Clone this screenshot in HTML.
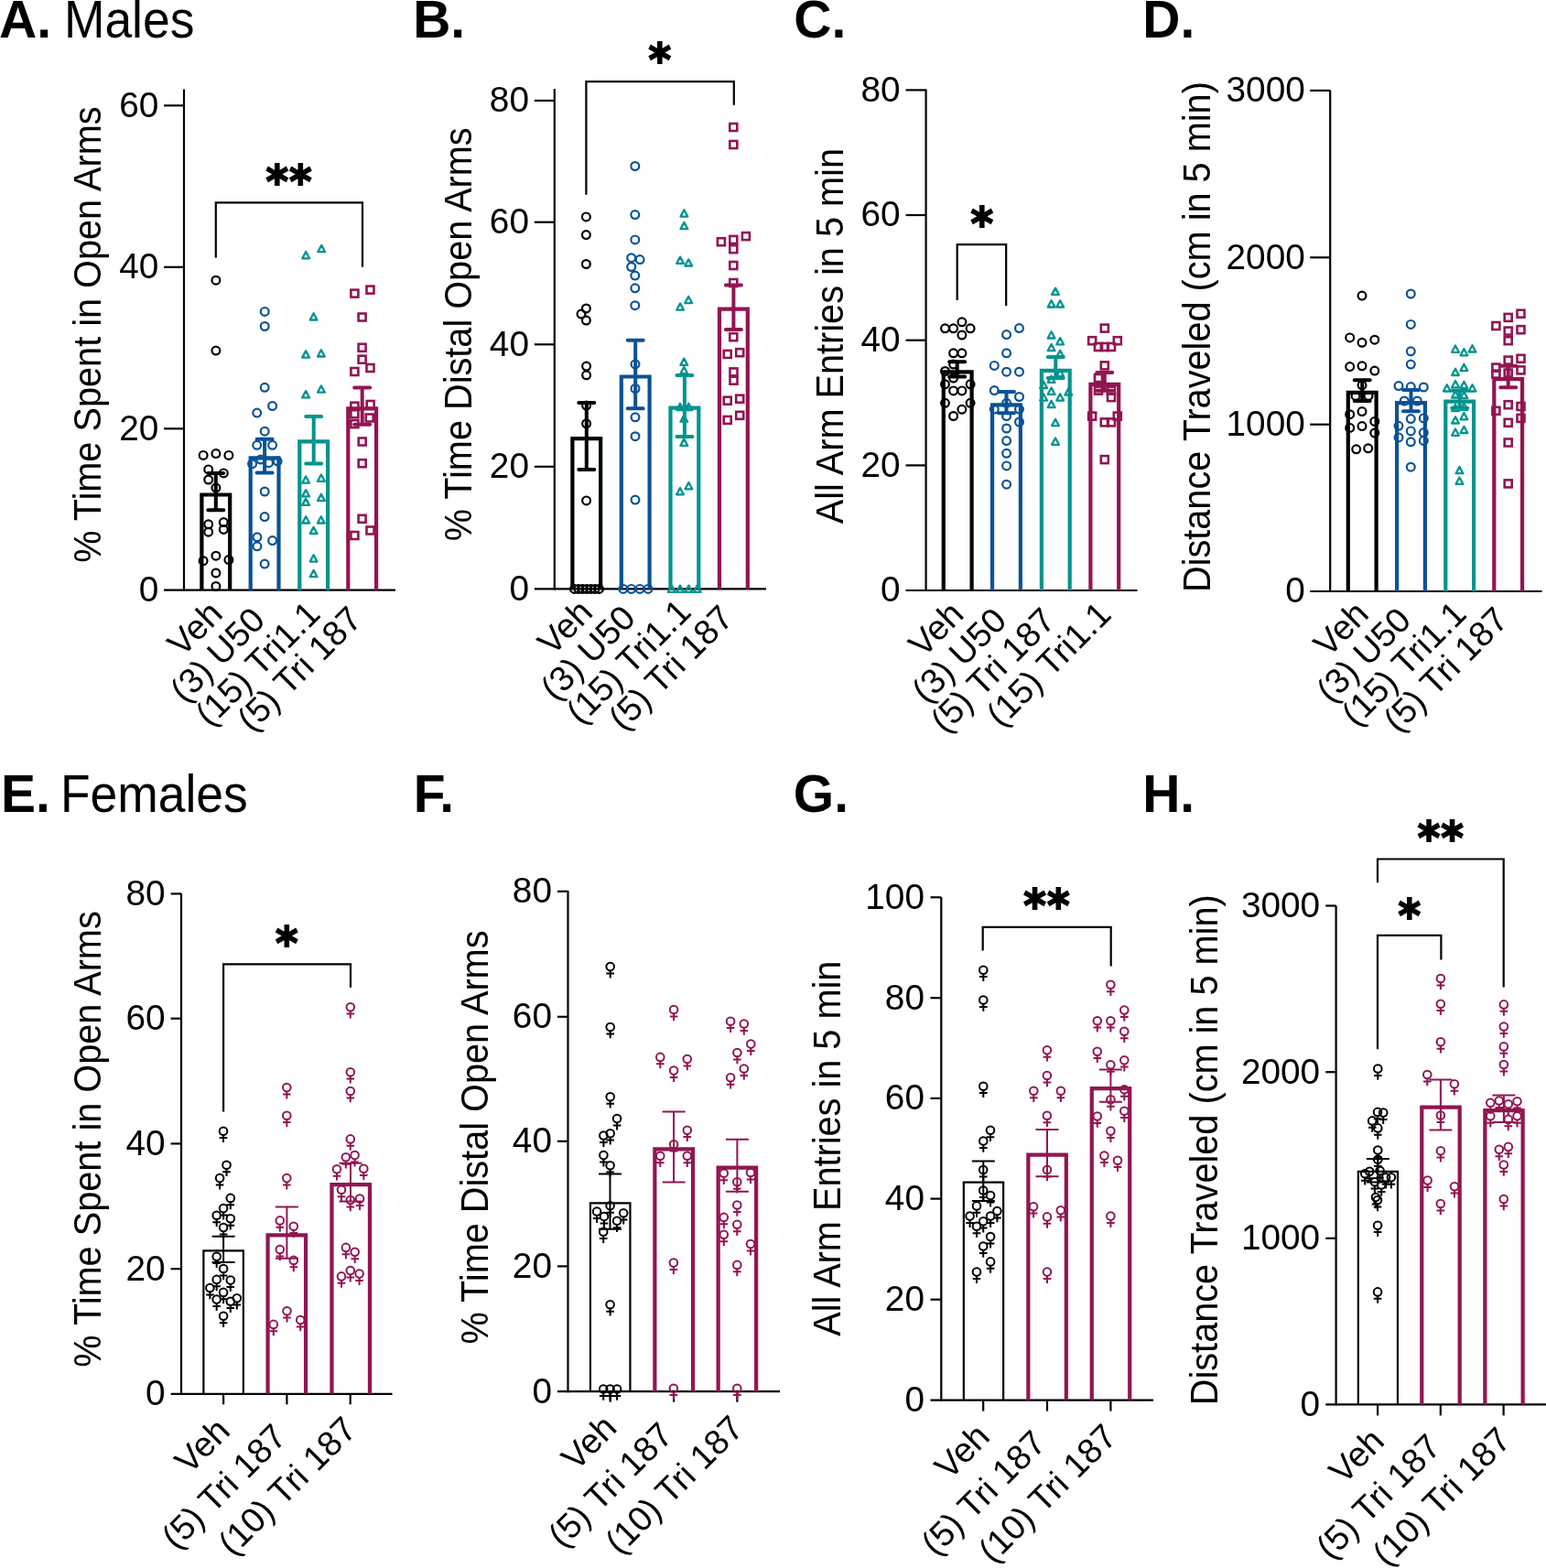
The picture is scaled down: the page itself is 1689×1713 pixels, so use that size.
<!DOCTYPE html><html><head><meta charset="utf-8"><title>Figure</title><style>html,body{margin:0;padding:0;background:#fff;}svg{display:block;}</style></head><body>
<svg xmlns="http://www.w3.org/2000/svg" width="1689" height="1713" viewBox="0 0 1689 1713" font-family="'Liberation Sans', Arial, Helvetica, sans-serif" fill="#000">
<rect width="1689" height="1713" fill="#fff"/>
<text x="-1" y="40.9" font-size="57" font-weight="700">A.</text>
<text transform="translate(69.9 40.9) scale(1 1.066)" font-size="53.4">Males</text>
<text x="451.2" y="41.2" font-size="57" font-weight="700">B.</text>
<text x="867.3" y="41.2" font-size="57" font-weight="700">C.</text>
<text x="1248.3" y="41.2" font-size="57" font-weight="700">D.</text>
<text x="1.1" y="887.3" font-size="57" font-weight="700">E.</text>
<text transform="translate(65.9 887.3) scale(1 1.066)" font-size="53.4">Females</text>
<text x="451.8" y="887.3" font-size="57" font-weight="700">F.</text>
<text x="866.8" y="887.3" font-size="57" font-weight="700">G.</text>
<text x="1248.2" y="887.3" font-size="57" font-weight="700">H.</text>
<g>
<line x1="201" y1="97.5" x2="201" y2="645.8" stroke="#000000" stroke-width="2.2" stroke-linecap="butt"/>
<line x1="179" y1="644.7" x2="432" y2="644.7" stroke="#000000" stroke-width="2.2" stroke-linecap="butt"/>
<text transform="translate(173.4 657.1) scale(1 1.02)" font-size="38.8" text-anchor="end" font-weight="normal">0</text>
<line x1="179" y1="468.3" x2="201" y2="468.3" stroke="#000000" stroke-width="2.2" stroke-linecap="butt"/>
<text transform="translate(173.4 480.7) scale(1 1.02)" font-size="38.8" text-anchor="end" font-weight="normal">20</text>
<line x1="179" y1="291.8" x2="201" y2="291.8" stroke="#000000" stroke-width="2.2" stroke-linecap="butt"/>
<text transform="translate(173.4 304.2) scale(1 1.02)" font-size="38.8" text-anchor="end" font-weight="normal">40</text>
<line x1="179" y1="115.3" x2="201" y2="115.3" stroke="#000000" stroke-width="2.2" stroke-linecap="butt"/>
<text transform="translate(173.4 127.7) scale(1 1.02)" font-size="38.8" text-anchor="end" font-weight="normal">60</text>
<text transform="translate(110 365.65) rotate(-90) scale(1 1.08)" font-size="39.7" text-anchor="middle" font-weight="normal">% Time Spent in Open Arms</text>
<path d="M220.4 644.7 V540.5 H251.2 V644.7" fill="none" stroke="#000000" stroke-width="4.2" stroke-linejoin="miter"/>
<path d="M273.7 644.7 V500.3 H304.5 V644.7" fill="none" stroke="#0a5297" stroke-width="4.2" stroke-linejoin="miter"/>
<path d="M327.3 644.7 V482.3 H358.1 V644.7" fill="none" stroke="#00948f" stroke-width="4.2" stroke-linejoin="miter"/>
<path d="M380.3 644.7 V446.3 H411.1 V644.7" fill="none" stroke="#921552" stroke-width="4.2" stroke-linejoin="miter"/>
<circle cx="235.9" cy="306.2" r="4.4" fill="none" stroke="#000000" stroke-width="2.2"/>
<circle cx="235.9" cy="383.1" r="4.4" fill="none" stroke="#000000" stroke-width="2.2"/>
<circle cx="222.1" cy="497.4" r="4.4" fill="none" stroke="#000000" stroke-width="2.2"/>
<circle cx="235.9" cy="495.6" r="4.4" fill="none" stroke="#000000" stroke-width="2.2"/>
<circle cx="249.9" cy="497.4" r="4.4" fill="none" stroke="#000000" stroke-width="2.2"/>
<circle cx="227.7" cy="512.9" r="4.4" fill="none" stroke="#000000" stroke-width="2.2"/>
<circle cx="244.3" cy="516.9" r="4.4" fill="none" stroke="#000000" stroke-width="2.2"/>
<circle cx="227.7" cy="524" r="4.4" fill="none" stroke="#000000" stroke-width="2.2"/>
<circle cx="235.9" cy="532.9" r="4.4" fill="none" stroke="#000000" stroke-width="2.2"/>
<circle cx="227.7" cy="572.8" r="4.4" fill="none" stroke="#000000" stroke-width="2.2"/>
<circle cx="244.3" cy="570.6" r="4.4" fill="none" stroke="#000000" stroke-width="2.2"/>
<circle cx="227.7" cy="581.2" r="4.4" fill="none" stroke="#000000" stroke-width="2.2"/>
<circle cx="244.3" cy="578.4" r="4.4" fill="none" stroke="#000000" stroke-width="2.2"/>
<circle cx="235.9" cy="607.2" r="4.4" fill="none" stroke="#000000" stroke-width="2.2"/>
<circle cx="222.1" cy="612.7" r="4.4" fill="none" stroke="#000000" stroke-width="2.2"/>
<circle cx="249.9" cy="611.6" r="4.4" fill="none" stroke="#000000" stroke-width="2.2"/>
<circle cx="235.9" cy="626" r="4.4" fill="none" stroke="#000000" stroke-width="2.2"/>
<circle cx="235.9" cy="640.5" r="4.4" fill="none" stroke="#000000" stroke-width="2.2"/>
<circle cx="289.2" cy="340.4" r="4.4" fill="none" stroke="#0a5297" stroke-width="2.2"/>
<circle cx="289.2" cy="356.5" r="4.4" fill="none" stroke="#0a5297" stroke-width="2.2"/>
<circle cx="289.2" cy="423.3" r="4.4" fill="none" stroke="#0a5297" stroke-width="2.2"/>
<circle cx="297.6" cy="443.5" r="4.4" fill="none" stroke="#0a5297" stroke-width="2.2"/>
<circle cx="280.7" cy="451.1" r="4.4" fill="none" stroke="#0a5297" stroke-width="2.2"/>
<circle cx="289.2" cy="471.2" r="4.4" fill="none" stroke="#0a5297" stroke-width="2.2"/>
<circle cx="280.7" cy="486.3" r="4.4" fill="none" stroke="#0a5297" stroke-width="2.2"/>
<circle cx="297.6" cy="486.3" r="4.4" fill="none" stroke="#0a5297" stroke-width="2.2"/>
<circle cx="275.6" cy="506.7" r="4.4" fill="none" stroke="#0a5297" stroke-width="2.2"/>
<circle cx="284.8" cy="502" r="4.4" fill="none" stroke="#0a5297" stroke-width="2.2"/>
<circle cx="293.6" cy="505.7" r="4.4" fill="none" stroke="#0a5297" stroke-width="2.2"/>
<circle cx="303.1" cy="503.8" r="4.4" fill="none" stroke="#0a5297" stroke-width="2.2"/>
<circle cx="289.2" cy="537" r="4.4" fill="none" stroke="#0a5297" stroke-width="2.2"/>
<circle cx="289.1" cy="564.6" r="4.4" fill="none" stroke="#0a5297" stroke-width="2.2"/>
<circle cx="280.9" cy="586.8" r="4.4" fill="none" stroke="#0a5297" stroke-width="2.2"/>
<circle cx="297.6" cy="590.6" r="4.4" fill="none" stroke="#0a5297" stroke-width="2.2"/>
<circle cx="280.9" cy="596.8" r="4.4" fill="none" stroke="#0a5297" stroke-width="2.2"/>
<circle cx="289.1" cy="616.1" r="4.4" fill="none" stroke="#0a5297" stroke-width="2.2"/>
<path d="M334.2 275 L338.1 282.3 L330.3 282.3 Z" fill="none" stroke="#00948f" stroke-width="2.3" stroke-linejoin="round"/>
<path d="M351.2 267.9 L355.1 275.2 L347.3 275.2 Z" fill="none" stroke="#00948f" stroke-width="2.3" stroke-linejoin="round"/>
<path d="M342.6 342.2 L346.5 349.5 L338.7 349.5 Z" fill="none" stroke="#00948f" stroke-width="2.3" stroke-linejoin="round"/>
<path d="M334.1 383.3 L338 390.6 L330.2 390.6 Z" fill="none" stroke="#00948f" stroke-width="2.3" stroke-linejoin="round"/>
<path d="M350.9 382.2 L354.8 389.5 L347 389.5 Z" fill="none" stroke="#00948f" stroke-width="2.3" stroke-linejoin="round"/>
<path d="M334.1 427.1 L338 434.4 L330.2 434.4 Z" fill="none" stroke="#00948f" stroke-width="2.3" stroke-linejoin="round"/>
<path d="M350.9 421.4 L354.8 428.7 L347 428.7 Z" fill="none" stroke="#00948f" stroke-width="2.3" stroke-linejoin="round"/>
<path d="M334.1 520.4 L338 527.7 L330.2 527.7 Z" fill="none" stroke="#00948f" stroke-width="2.3" stroke-linejoin="round"/>
<path d="M350.9 518.5 L354.8 525.8 L347 525.8 Z" fill="none" stroke="#00948f" stroke-width="2.3" stroke-linejoin="round"/>
<path d="M334.1 535.1 L338 542.4 L330.2 542.4 Z" fill="none" stroke="#00948f" stroke-width="2.3" stroke-linejoin="round"/>
<path d="M350.9 539.8 L354.8 547.1 L347 547.1 Z" fill="none" stroke="#00948f" stroke-width="2.3" stroke-linejoin="round"/>
<path d="M334.1 544.6 L338 551.9 L330.2 551.9 Z" fill="none" stroke="#00948f" stroke-width="2.3" stroke-linejoin="round"/>
<path d="M334.2 564.2 L338.1 571.5 L330.3 571.5 Z" fill="none" stroke="#00948f" stroke-width="2.3" stroke-linejoin="round"/>
<path d="M350.8 564.2 L354.7 571.5 L346.9 571.5 Z" fill="none" stroke="#00948f" stroke-width="2.3" stroke-linejoin="round"/>
<path d="M342.6 575.7 L346.5 583 L338.7 583 Z" fill="none" stroke="#00948f" stroke-width="2.3" stroke-linejoin="round"/>
<path d="M342.6 606.3 L346.5 613.6 L338.7 613.6 Z" fill="none" stroke="#00948f" stroke-width="2.3" stroke-linejoin="round"/>
<path d="M342.6 622.9 L346.5 630.2 L338.7 630.2 Z" fill="none" stroke="#00948f" stroke-width="2.3" stroke-linejoin="round"/>
<rect x="383.4" y="316.6" width="8.0" height="8.0" fill="none" stroke="#921552" stroke-width="2.6"/>
<rect x="400.5" y="312.6" width="8.0" height="8.0" fill="none" stroke="#921552" stroke-width="2.6"/>
<rect x="391.6" y="342.5" width="8.0" height="8.0" fill="none" stroke="#921552" stroke-width="2.6"/>
<rect x="391.6" y="375.8" width="8.0" height="8.0" fill="none" stroke="#921552" stroke-width="2.6"/>
<rect x="391.6" y="388.7" width="8.0" height="8.0" fill="none" stroke="#921552" stroke-width="2.6"/>
<rect x="383.4" y="402" width="8.0" height="8.0" fill="none" stroke="#921552" stroke-width="2.6"/>
<rect x="400.5" y="398" width="8.0" height="8.0" fill="none" stroke="#921552" stroke-width="2.6"/>
<rect x="383.4" y="439.7" width="8.0" height="8.0" fill="none" stroke="#921552" stroke-width="2.6"/>
<rect x="400.7" y="438" width="8.0" height="8.0" fill="none" stroke="#921552" stroke-width="2.6"/>
<rect x="383.4" y="448.2" width="8.0" height="8.0" fill="none" stroke="#921552" stroke-width="2.6"/>
<rect x="399.7" y="452.5" width="8.0" height="8.0" fill="none" stroke="#921552" stroke-width="2.6"/>
<rect x="383.4" y="459.1" width="8.0" height="8.0" fill="none" stroke="#921552" stroke-width="2.6"/>
<rect x="391.7" y="478.5" width="8.0" height="8.0" fill="none" stroke="#921552" stroke-width="2.6"/>
<rect x="391.7" y="502.2" width="8.0" height="8.0" fill="none" stroke="#921552" stroke-width="2.6"/>
<rect x="391.6" y="562.8" width="8.0" height="8.0" fill="none" stroke="#921552" stroke-width="2.6"/>
<rect x="383.4" y="581" width="8.0" height="8.0" fill="none" stroke="#921552" stroke-width="2.6"/>
<rect x="400.5" y="575.5" width="8.0" height="8.0" fill="none" stroke="#921552" stroke-width="2.6"/>
<path d="M235.8 516.9 V557.3 M227.3 516.9 H244.3 M227.3 557.3 H244.3" fill="none" stroke="#000000" stroke-width="4" stroke-linecap="round"/>
<path d="M289.1 479.7 V516.6 M280.6 479.7 H297.6 M280.6 516.6 H297.6" fill="none" stroke="#0a5297" stroke-width="4" stroke-linecap="round"/>
<path d="M342.7 454.9 V506.4 M334.2 454.9 H351.2 M334.2 506.4 H351.2" fill="none" stroke="#00948f" stroke-width="4" stroke-linecap="round"/>
<path d="M395.7 423.6 V463.8 M387.2 423.6 H404.2 M387.2 463.8 H404.2" fill="none" stroke="#921552" stroke-width="4" stroke-linecap="round"/>
<path d="M235.8 281.4 V221.4 H396 V291.8" fill="none" stroke="#000000" stroke-width="2.2"/>
<text transform="translate(316 215.7) scale(1 1.06)" font-family="'DejaVu Sans', sans-serif" font-weight="700" font-size="47" text-anchor="middle" letter-spacing="1" stroke="#000" stroke-width="1.7" stroke-linejoin="miter">**</text>
<text transform="translate(245.1 672.5) rotate(-45)" font-size="38" text-anchor="end" font-weight="normal" class="xl">Veh</text>
<text transform="translate(291.4 679.6) rotate(-45)" font-size="38" text-anchor="end" font-weight="normal" class="xl">(3) U50</text>
<text transform="translate(351.7 672.9) rotate(-45)" font-size="38" text-anchor="end" font-weight="normal" class="xl">(15) Tri1.1</text>
<text transform="translate(397.5 678.6) rotate(-45)" font-size="38" text-anchor="end" font-weight="normal" class="xl">(5) Tri 187</text>
</g>
<g>
<line x1="605.8" y1="97.1" x2="605.8" y2="644.5" stroke="#000000" stroke-width="2.2" stroke-linecap="butt"/>
<line x1="583.8" y1="643.4" x2="837" y2="643.4" stroke="#000000" stroke-width="2.2" stroke-linecap="butt"/>
<text transform="translate(578 655.8) scale(1 1.02)" font-size="38.8" text-anchor="end" font-weight="normal">0</text>
<line x1="583.8" y1="509.8" x2="605.8" y2="509.8" stroke="#000000" stroke-width="2.2" stroke-linecap="butt"/>
<text transform="translate(578 522.2) scale(1 1.02)" font-size="38.8" text-anchor="end" font-weight="normal">20</text>
<line x1="583.8" y1="376.3" x2="605.8" y2="376.3" stroke="#000000" stroke-width="2.2" stroke-linecap="butt"/>
<text transform="translate(578 388.7) scale(1 1.02)" font-size="38.8" text-anchor="end" font-weight="normal">40</text>
<line x1="583.8" y1="242.7" x2="605.8" y2="242.7" stroke="#000000" stroke-width="2.2" stroke-linecap="butt"/>
<text transform="translate(578 255.1) scale(1 1.02)" font-size="38.8" text-anchor="end" font-weight="normal">60</text>
<line x1="583.8" y1="109.9" x2="605.8" y2="109.9" stroke="#000000" stroke-width="2.2" stroke-linecap="butt"/>
<text transform="translate(578 122.3) scale(1 1.02)" font-size="38.8" text-anchor="end" font-weight="normal">80</text>
<text transform="translate(515 365.3) rotate(-90) scale(1 1.08)" font-size="39.7" text-anchor="middle" font-weight="normal">% Time Distal Open Arms</text>
<path d="M625.4 643.4 V479.1 H656.2 V643.4" fill="none" stroke="#000000" stroke-width="4.2" stroke-linejoin="miter"/>
<path d="M678.8 643.4 V411.5 H709.6 V643.4" fill="none" stroke="#0a5297" stroke-width="4.2" stroke-linejoin="miter"/>
<path d="M732.5 643.4 V445.7 H763.3 V643.4" fill="none" stroke="#00948f" stroke-width="4.2" stroke-linejoin="miter"/>
<path d="M786 643.4 V337.6 H816.8 V643.4" fill="none" stroke="#921552" stroke-width="4.2" stroke-linejoin="miter"/>
<circle cx="640.4" cy="236.9" r="4.4" fill="none" stroke="#000000" stroke-width="2.2"/>
<circle cx="640.4" cy="256.6" r="4.4" fill="none" stroke="#000000" stroke-width="2.2"/>
<circle cx="640.4" cy="288.5" r="4.4" fill="none" stroke="#000000" stroke-width="2.2"/>
<circle cx="640.4" cy="337" r="4.4" fill="none" stroke="#000000" stroke-width="2.2"/>
<circle cx="635" cy="343.1" r="4.4" fill="none" stroke="#000000" stroke-width="2.2"/>
<circle cx="640.4" cy="350" r="4.4" fill="none" stroke="#000000" stroke-width="2.2"/>
<circle cx="640.6" cy="400.1" r="4.4" fill="none" stroke="#000000" stroke-width="2.2"/>
<circle cx="640.6" cy="409.8" r="4.4" fill="none" stroke="#000000" stroke-width="2.2"/>
<circle cx="640.6" cy="443.1" r="4.4" fill="none" stroke="#000000" stroke-width="2.2"/>
<circle cx="640.6" cy="462.8" r="4.4" fill="none" stroke="#000000" stroke-width="2.2"/>
<circle cx="640.6" cy="546.9" r="4.4" fill="none" stroke="#000000" stroke-width="2.2"/>
<circle cx="627.5" cy="643.4" r="4.4" fill="none" stroke="#000000" stroke-width="2.2"/>
<circle cx="632" cy="643.4" r="4.4" fill="none" stroke="#000000" stroke-width="2.2"/>
<circle cx="636.5" cy="643.4" r="4.4" fill="none" stroke="#000000" stroke-width="2.2"/>
<circle cx="641" cy="643.4" r="4.4" fill="none" stroke="#000000" stroke-width="2.2"/>
<circle cx="645.5" cy="643.4" r="4.4" fill="none" stroke="#000000" stroke-width="2.2"/>
<circle cx="650" cy="643.4" r="4.4" fill="none" stroke="#000000" stroke-width="2.2"/>
<circle cx="654.5" cy="643.4" r="4.4" fill="none" stroke="#000000" stroke-width="2.2"/>
<circle cx="693.8" cy="181.5" r="4.4" fill="none" stroke="#0a5297" stroke-width="2.2"/>
<circle cx="693.8" cy="234.6" r="4.4" fill="none" stroke="#0a5297" stroke-width="2.2"/>
<circle cx="693.8" cy="261.9" r="4.4" fill="none" stroke="#0a5297" stroke-width="2.2"/>
<circle cx="689.7" cy="281.7" r="4.4" fill="none" stroke="#0a5297" stroke-width="2.2"/>
<circle cx="699.1" cy="283.6" r="4.4" fill="none" stroke="#0a5297" stroke-width="2.2"/>
<circle cx="689.7" cy="291.5" r="4.4" fill="none" stroke="#0a5297" stroke-width="2.2"/>
<circle cx="693.8" cy="301.1" r="4.4" fill="none" stroke="#0a5297" stroke-width="2.2"/>
<circle cx="693.8" cy="314.8" r="4.4" fill="none" stroke="#0a5297" stroke-width="2.2"/>
<circle cx="693.8" cy="333.7" r="4.4" fill="none" stroke="#0a5297" stroke-width="2.2"/>
<circle cx="694" cy="397.9" r="4.4" fill="none" stroke="#0a5297" stroke-width="2.2"/>
<circle cx="694" cy="424.5" r="4.4" fill="none" stroke="#0a5297" stroke-width="2.2"/>
<circle cx="694" cy="455.8" r="4.4" fill="none" stroke="#0a5297" stroke-width="2.2"/>
<circle cx="694" cy="476.7" r="4.4" fill="none" stroke="#0a5297" stroke-width="2.2"/>
<circle cx="694" cy="546.1" r="4.4" fill="none" stroke="#0a5297" stroke-width="2.2"/>
<circle cx="680.9" cy="643.4" r="4.4" fill="none" stroke="#0a5297" stroke-width="2.2"/>
<circle cx="689.7" cy="643.4" r="4.4" fill="none" stroke="#0a5297" stroke-width="2.2"/>
<circle cx="699" cy="643.4" r="4.4" fill="none" stroke="#0a5297" stroke-width="2.2"/>
<circle cx="708" cy="643.4" r="4.4" fill="none" stroke="#0a5297" stroke-width="2.2"/>
<path d="M747.4 229.3 L751.3 236.6 L743.5 236.6 Z" fill="none" stroke="#00948f" stroke-width="2.3" stroke-linejoin="round"/>
<path d="M747.4 242.9 L751.3 250.2 L743.5 250.2 Z" fill="none" stroke="#00948f" stroke-width="2.3" stroke-linejoin="round"/>
<path d="M743.1 280.6 L747 287.9 L739.2 287.9 Z" fill="none" stroke="#00948f" stroke-width="2.3" stroke-linejoin="round"/>
<path d="M752.2 283.2 L756.1 290.5 L748.3 290.5 Z" fill="none" stroke="#00948f" stroke-width="2.3" stroke-linejoin="round"/>
<path d="M752.2 323.8 L756.1 331.1 L748.3 331.1 Z" fill="none" stroke="#00948f" stroke-width="2.3" stroke-linejoin="round"/>
<path d="M743.1 331.4 L747 338.7 L739.2 338.7 Z" fill="none" stroke="#00948f" stroke-width="2.3" stroke-linejoin="round"/>
<path d="M747.3 391.6 L751.2 398.9 L743.4 398.9 Z" fill="none" stroke="#00948f" stroke-width="2.3" stroke-linejoin="round"/>
<path d="M747.3 400.9 L751.2 408.2 L743.4 408.2 Z" fill="none" stroke="#00948f" stroke-width="2.3" stroke-linejoin="round"/>
<path d="M743 440.7 L746.9 448 L739.1 448 Z" fill="none" stroke="#00948f" stroke-width="2.3" stroke-linejoin="round"/>
<path d="M752.4 440.7 L756.3 448 L748.5 448 Z" fill="none" stroke="#00948f" stroke-width="2.3" stroke-linejoin="round"/>
<path d="M747.3 453.4 L751.2 460.7 L743.4 460.7 Z" fill="none" stroke="#00948f" stroke-width="2.3" stroke-linejoin="round"/>
<path d="M747.3 479.6 L751.2 486.9 L743.4 486.9 Z" fill="none" stroke="#00948f" stroke-width="2.3" stroke-linejoin="round"/>
<path d="M752.4 527 L756.3 534.3 L748.5 534.3 Z" fill="none" stroke="#00948f" stroke-width="2.3" stroke-linejoin="round"/>
<path d="M743 533 L746.9 540.3 L739.1 540.3 Z" fill="none" stroke="#00948f" stroke-width="2.3" stroke-linejoin="round"/>
<path d="M733.7 639.6 L737.6 646.9 L729.8 646.9 Z" fill="none" stroke="#00948f" stroke-width="2.3" stroke-linejoin="round"/>
<path d="M743 639.6 L746.9 646.9 L739.1 646.9 Z" fill="none" stroke="#00948f" stroke-width="2.3" stroke-linejoin="round"/>
<path d="M752.4 639.6 L756.3 646.9 L748.5 646.9 Z" fill="none" stroke="#00948f" stroke-width="2.3" stroke-linejoin="round"/>
<path d="M761.7 639.6 L765.6 646.9 L757.8 646.9 Z" fill="none" stroke="#00948f" stroke-width="2.3" stroke-linejoin="round"/>
<rect x="797.3" y="135" width="8.0" height="8.0" fill="none" stroke="#921552" stroke-width="2.6"/>
<rect x="797.3" y="154" width="8.0" height="8.0" fill="none" stroke="#921552" stroke-width="2.6"/>
<rect x="810.9" y="254.1" width="8.0" height="8.0" fill="none" stroke="#921552" stroke-width="2.6"/>
<rect x="783.9" y="260.2" width="8.0" height="8.0" fill="none" stroke="#921552" stroke-width="2.6"/>
<rect x="797.3" y="257.9" width="8.0" height="8.0" fill="none" stroke="#921552" stroke-width="2.6"/>
<rect x="797.3" y="268.2" width="8.0" height="8.0" fill="none" stroke="#921552" stroke-width="2.6"/>
<rect x="797.3" y="286" width="8.0" height="8.0" fill="none" stroke="#921552" stroke-width="2.6"/>
<rect x="797.3" y="305" width="8.0" height="8.0" fill="none" stroke="#921552" stroke-width="2.6"/>
<rect x="797.3" y="364.2" width="8.0" height="8.0" fill="none" stroke="#921552" stroke-width="2.6"/>
<rect x="790.7" y="382.9" width="8.0" height="8.0" fill="none" stroke="#921552" stroke-width="2.6"/>
<rect x="804.2" y="381.2" width="8.0" height="8.0" fill="none" stroke="#921552" stroke-width="2.6"/>
<rect x="797.5" y="402.4" width="8.0" height="8.0" fill="none" stroke="#921552" stroke-width="2.6"/>
<rect x="797.5" y="411.7" width="8.0" height="8.0" fill="none" stroke="#921552" stroke-width="2.6"/>
<rect x="790.7" y="433.7" width="8.0" height="8.0" fill="none" stroke="#921552" stroke-width="2.6"/>
<rect x="804.2" y="431.7" width="8.0" height="8.0" fill="none" stroke="#921552" stroke-width="2.6"/>
<rect x="790.7" y="454.9" width="8.0" height="8.0" fill="none" stroke="#921552" stroke-width="2.6"/>
<rect x="804.2" y="449.8" width="8.0" height="8.0" fill="none" stroke="#921552" stroke-width="2.6"/>
<path d="M640.8 439.9 V513 M632.3 439.9 H649.3 M632.3 513 H649.3" fill="none" stroke="#000000" stroke-width="4" stroke-linecap="round"/>
<path d="M694.2 371.7 V446.2 M685.7 371.7 H702.7 M685.7 446.2 H702.7" fill="none" stroke="#0a5297" stroke-width="4" stroke-linecap="round"/>
<path d="M747.9 410.1 V477 M739.4 410.1 H756.4 M739.4 477 H756.4" fill="none" stroke="#00948f" stroke-width="4" stroke-linecap="round"/>
<path d="M801.4 311.6 V360.1 M792.9 311.6 H809.9 M792.9 360.1 H809.9" fill="none" stroke="#921552" stroke-width="4" stroke-linecap="round"/>
<path d="M640.4 212.7 V89.1 H801.8 V114.8" fill="none" stroke="#000000" stroke-width="2.2"/>
<text transform="translate(721.3 83.2) scale(1 1.06)" font-family="'DejaVu Sans', sans-serif" font-weight="700" font-size="47" text-anchor="middle" letter-spacing="1" stroke="#000" stroke-width="1.7" stroke-linejoin="miter">*</text>
<text transform="translate(649.5 671.05) rotate(-45)" font-size="38" text-anchor="end" font-weight="normal" class="xl">Veh</text>
<text transform="translate(696.2 677.4) rotate(-45)" font-size="38" text-anchor="end" font-weight="normal" class="xl">(3) U50</text>
<text transform="translate(757 670.6) rotate(-45)" font-size="38" text-anchor="end" font-weight="normal" class="xl">(15) Tri1.1</text>
<text transform="translate(803.2 677.3) rotate(-45)" font-size="38" text-anchor="end" font-weight="normal" class="xl">(5) Tri 187</text>
</g>
<g>
<line x1="1011.6" y1="97.6" x2="1011.6" y2="646.1" stroke="#000000" stroke-width="2.2" stroke-linecap="butt"/>
<line x1="989.6" y1="645" x2="1242.5" y2="645" stroke="#000000" stroke-width="2.2" stroke-linecap="butt"/>
<text transform="translate(983.7 657.4) scale(1 1.02)" font-size="38.8" text-anchor="end" font-weight="normal">0</text>
<line x1="989.6" y1="508.4" x2="1011.6" y2="508.4" stroke="#000000" stroke-width="2.2" stroke-linecap="butt"/>
<text transform="translate(983.7 520.8) scale(1 1.02)" font-size="38.8" text-anchor="end" font-weight="normal">20</text>
<line x1="989.6" y1="371.7" x2="1011.6" y2="371.7" stroke="#000000" stroke-width="2.2" stroke-linecap="butt"/>
<text transform="translate(983.7 384.1) scale(1 1.02)" font-size="38.8" text-anchor="end" font-weight="normal">40</text>
<line x1="989.6" y1="235" x2="1011.6" y2="235" stroke="#000000" stroke-width="2.2" stroke-linecap="butt"/>
<text transform="translate(983.7 247.4) scale(1 1.02)" font-size="38.8" text-anchor="end" font-weight="normal">60</text>
<line x1="989.6" y1="98.4" x2="1011.6" y2="98.4" stroke="#000000" stroke-width="2.2" stroke-linecap="butt"/>
<text transform="translate(983.7 110.8) scale(1 1.02)" font-size="38.8" text-anchor="end" font-weight="normal">80</text>
<text transform="translate(920.9 367.1) rotate(-90) scale(1 1.08)" font-size="39.7" text-anchor="middle" font-weight="normal">All Arm Entries in 5 min</text>
<path d="M1030.8 645 V406.3 H1061.6 V645" fill="none" stroke="#000000" stroke-width="4.2" stroke-linejoin="miter"/>
<path d="M1084.1 645 V442.4 H1114.9 V645" fill="none" stroke="#0a5297" stroke-width="4.2" stroke-linejoin="miter"/>
<path d="M1137.9 645 V404.9 H1168.7 V645" fill="none" stroke="#00948f" stroke-width="4.2" stroke-linejoin="miter"/>
<path d="M1191.4 645 V419.9 H1222.2 V645" fill="none" stroke="#921552" stroke-width="4.2" stroke-linejoin="miter"/>
<circle cx="1050.9" cy="351.8" r="4.4" fill="none" stroke="#000000" stroke-width="2.2"/>
<circle cx="1032.5" cy="358.8" r="4.4" fill="none" stroke="#000000" stroke-width="2.2"/>
<circle cx="1041.6" cy="358.8" r="4.4" fill="none" stroke="#000000" stroke-width="2.2"/>
<circle cx="1060.1" cy="358.8" r="4.4" fill="none" stroke="#000000" stroke-width="2.2"/>
<circle cx="1050.9" cy="366" r="4.4" fill="none" stroke="#000000" stroke-width="2.2"/>
<circle cx="1041.6" cy="385.8" r="4.4" fill="none" stroke="#000000" stroke-width="2.2"/>
<circle cx="1050.9" cy="385.8" r="4.4" fill="none" stroke="#000000" stroke-width="2.2"/>
<circle cx="1032.5" cy="405.5" r="4.4" fill="none" stroke="#000000" stroke-width="2.2"/>
<circle cx="1041.6" cy="398" r="4.4" fill="none" stroke="#000000" stroke-width="2.2"/>
<circle cx="1041.6" cy="413" r="4.4" fill="none" stroke="#000000" stroke-width="2.2"/>
<circle cx="1032.5" cy="419.8" r="4.4" fill="none" stroke="#000000" stroke-width="2.2"/>
<circle cx="1060.1" cy="419.8" r="4.4" fill="none" stroke="#000000" stroke-width="2.2"/>
<circle cx="1041.6" cy="426.9" r="4.4" fill="none" stroke="#000000" stroke-width="2.2"/>
<circle cx="1050.9" cy="426.9" r="4.4" fill="none" stroke="#000000" stroke-width="2.2"/>
<circle cx="1032.5" cy="440.3" r="4.4" fill="none" stroke="#000000" stroke-width="2.2"/>
<circle cx="1060.1" cy="440.3" r="4.4" fill="none" stroke="#000000" stroke-width="2.2"/>
<circle cx="1050.9" cy="447.3" r="4.4" fill="none" stroke="#000000" stroke-width="2.2"/>
<circle cx="1041.6" cy="454.5" r="4.4" fill="none" stroke="#000000" stroke-width="2.2"/>
<circle cx="1113.5" cy="358.6" r="4.4" fill="none" stroke="#0a5297" stroke-width="2.2"/>
<circle cx="1099.6" cy="365.6" r="4.4" fill="none" stroke="#0a5297" stroke-width="2.2"/>
<circle cx="1099.6" cy="385.8" r="4.4" fill="none" stroke="#0a5297" stroke-width="2.2"/>
<circle cx="1086.3" cy="399.4" r="4.4" fill="none" stroke="#0a5297" stroke-width="2.2"/>
<circle cx="1099.6" cy="406.2" r="4.4" fill="none" stroke="#0a5297" stroke-width="2.2"/>
<circle cx="1113.5" cy="406.2" r="4.4" fill="none" stroke="#0a5297" stroke-width="2.2"/>
<circle cx="1086.3" cy="426.6" r="4.4" fill="none" stroke="#0a5297" stroke-width="2.2"/>
<circle cx="1113.5" cy="433.5" r="4.4" fill="none" stroke="#0a5297" stroke-width="2.2"/>
<circle cx="1099.6" cy="440.3" r="4.4" fill="none" stroke="#0a5297" stroke-width="2.2"/>
<circle cx="1086.3" cy="447.1" r="4.4" fill="none" stroke="#0a5297" stroke-width="2.2"/>
<circle cx="1113.5" cy="447.1" r="4.4" fill="none" stroke="#0a5297" stroke-width="2.2"/>
<circle cx="1099.6" cy="454.6" r="4.4" fill="none" stroke="#0a5297" stroke-width="2.2"/>
<circle cx="1113.5" cy="461" r="4.4" fill="none" stroke="#0a5297" stroke-width="2.2"/>
<circle cx="1099.6" cy="468" r="4.4" fill="none" stroke="#0a5297" stroke-width="2.2"/>
<circle cx="1099.6" cy="481.6" r="4.4" fill="none" stroke="#0a5297" stroke-width="2.2"/>
<circle cx="1099.6" cy="495.3" r="4.4" fill="none" stroke="#0a5297" stroke-width="2.2"/>
<circle cx="1099.6" cy="508.9" r="4.4" fill="none" stroke="#0a5297" stroke-width="2.2"/>
<circle cx="1099.6" cy="529.2" r="4.4" fill="none" stroke="#0a5297" stroke-width="2.2"/>
<path d="M1153 314.6 L1156.9 321.9 L1149.1 321.9 Z" fill="none" stroke="#00948f" stroke-width="2.3" stroke-linejoin="round"/>
<path d="M1148.6 328.2 L1152.5 335.5 L1144.7 335.5 Z" fill="none" stroke="#00948f" stroke-width="2.3" stroke-linejoin="round"/>
<path d="M1158.2 328.2 L1162.1 335.5 L1154.3 335.5 Z" fill="none" stroke="#00948f" stroke-width="2.3" stroke-linejoin="round"/>
<path d="M1148.6 362.2 L1152.5 369.5 L1144.7 369.5 Z" fill="none" stroke="#00948f" stroke-width="2.3" stroke-linejoin="round"/>
<path d="M1158.2 369.1 L1162.1 376.4 L1154.3 376.4 Z" fill="none" stroke="#00948f" stroke-width="2.3" stroke-linejoin="round"/>
<path d="M1148.6 375.9 L1152.5 383.2 L1144.7 383.2 Z" fill="none" stroke="#00948f" stroke-width="2.3" stroke-linejoin="round"/>
<path d="M1158.2 382.7 L1162.1 390 L1154.3 390 Z" fill="none" stroke="#00948f" stroke-width="2.3" stroke-linejoin="round"/>
<path d="M1158.2 403.8 L1162.1 411.1 L1154.3 411.1 Z" fill="none" stroke="#00948f" stroke-width="2.3" stroke-linejoin="round"/>
<path d="M1148.6 410.6 L1152.5 417.9 L1144.7 417.9 Z" fill="none" stroke="#00948f" stroke-width="2.3" stroke-linejoin="round"/>
<path d="M1140.1 416.7 L1144 424 L1136.2 424 Z" fill="none" stroke="#00948f" stroke-width="2.3" stroke-linejoin="round"/>
<path d="M1148.6 423.5 L1152.5 430.8 L1144.7 430.8 Z" fill="none" stroke="#00948f" stroke-width="2.3" stroke-linejoin="round"/>
<path d="M1167.3 424.2 L1171.2 431.5 L1163.4 431.5 Z" fill="none" stroke="#00948f" stroke-width="2.3" stroke-linejoin="round"/>
<path d="M1140.1 430.3 L1144 437.6 L1136.2 437.6 Z" fill="none" stroke="#00948f" stroke-width="2.3" stroke-linejoin="round"/>
<path d="M1158.2 430.3 L1162.1 437.6 L1154.3 437.6 Z" fill="none" stroke="#00948f" stroke-width="2.3" stroke-linejoin="round"/>
<path d="M1148.6 437.8 L1152.5 445.1 L1144.7 445.1 Z" fill="none" stroke="#00948f" stroke-width="2.3" stroke-linejoin="round"/>
<path d="M1153 457.8 L1156.9 465.1 L1149.1 465.1 Z" fill="none" stroke="#00948f" stroke-width="2.3" stroke-linejoin="round"/>
<path d="M1153 478.5 L1156.9 485.8 L1149.1 485.8 Z" fill="none" stroke="#00948f" stroke-width="2.3" stroke-linejoin="round"/>
<rect x="1202.8" y="354.6" width="8.0" height="8.0" fill="none" stroke="#921552" stroke-width="2.6"/>
<rect x="1189.2" y="368.2" width="8.0" height="8.0" fill="none" stroke="#921552" stroke-width="2.6"/>
<rect x="1216.8" y="368.2" width="8.0" height="8.0" fill="none" stroke="#921552" stroke-width="2.6"/>
<rect x="1196" y="375" width="8.0" height="8.0" fill="none" stroke="#921552" stroke-width="2.6"/>
<rect x="1202.8" y="375" width="8.0" height="8.0" fill="none" stroke="#921552" stroke-width="2.6"/>
<rect x="1210" y="375" width="8.0" height="8.0" fill="none" stroke="#921552" stroke-width="2.6"/>
<rect x="1202.8" y="395.4" width="8.0" height="8.0" fill="none" stroke="#921552" stroke-width="2.6"/>
<rect x="1196" y="409" width="8.0" height="8.0" fill="none" stroke="#921552" stroke-width="2.6"/>
<rect x="1196" y="422.6" width="8.0" height="8.0" fill="none" stroke="#921552" stroke-width="2.6"/>
<rect x="1210" y="422.6" width="8.0" height="8.0" fill="none" stroke="#921552" stroke-width="2.6"/>
<rect x="1210" y="430.1" width="8.0" height="8.0" fill="none" stroke="#921552" stroke-width="2.6"/>
<rect x="1189.2" y="450.6" width="8.0" height="8.0" fill="none" stroke="#921552" stroke-width="2.6"/>
<rect x="1216.8" y="450.6" width="8.0" height="8.0" fill="none" stroke="#921552" stroke-width="2.6"/>
<rect x="1202.8" y="457.4" width="8.0" height="8.0" fill="none" stroke="#921552" stroke-width="2.6"/>
<rect x="1210" y="457.4" width="8.0" height="8.0" fill="none" stroke="#921552" stroke-width="2.6"/>
<rect x="1202.8" y="498.1" width="8.0" height="8.0" fill="none" stroke="#921552" stroke-width="2.6"/>
<path d="M1045.7 395.3 V411.4 M1037.2 395.3 H1054.2 M1037.2 411.4 H1054.2" fill="none" stroke="#000000" stroke-width="4" stroke-linecap="round"/>
<path d="M1099.5 428 V451.2 M1091 428 H1108 M1091 451.2 H1108" fill="none" stroke="#0a5297" stroke-width="4" stroke-linecap="round"/>
<path d="M1153.3 389.9 V413 M1144.8 389.9 H1161.8 M1144.8 413 H1161.8" fill="none" stroke="#00948f" stroke-width="4" stroke-linecap="round"/>
<path d="M1206.8 406.9 V426.7 M1198.3 406.9 H1215.3 M1198.3 426.7 H1215.3" fill="none" stroke="#921552" stroke-width="4" stroke-linecap="round"/>
<path d="M1045.7 327.9 V267.1 H1099.2 V334" fill="none" stroke="#000000" stroke-width="2.2"/>
<text transform="translate(1073.2 261.7) scale(1 1.06)" font-family="'DejaVu Sans', sans-serif" font-weight="700" font-size="47" text-anchor="middle" letter-spacing="1" stroke="#000" stroke-width="1.7" stroke-linejoin="miter">*</text>
<text transform="translate(1054.75 673.05) rotate(-45)" font-size="38" text-anchor="end" font-weight="normal" class="xl">Veh</text>
<text transform="translate(1101.7 680.15) rotate(-45)" font-size="38" text-anchor="end" font-weight="normal" class="xl">(3) U50</text>
<text transform="translate(1154.85 680.05) rotate(-45)" font-size="38" text-anchor="end" font-weight="normal" class="xl">(5) Tri 187</text>
<text transform="translate(1215.9 673.4) rotate(-45)" font-size="38" text-anchor="end" font-weight="normal" class="xl">(15) Tri1.1</text>
</g>
<g>
<line x1="1453.2" y1="98.4" x2="1453.2" y2="647.1" stroke="#000000" stroke-width="2.2" stroke-linecap="butt"/>
<line x1="1431.2" y1="646" x2="1684.5" y2="646" stroke="#000000" stroke-width="2.2" stroke-linecap="butt"/>
<text transform="translate(1425.8 658.4) scale(1 1.02)" font-size="38.8" text-anchor="end" font-weight="normal">0</text>
<line x1="1431.2" y1="463.7" x2="1453.2" y2="463.7" stroke="#000000" stroke-width="2.2" stroke-linecap="butt"/>
<text transform="translate(1425.8 476.1) scale(1 1.02)" font-size="38.8" text-anchor="end" font-weight="normal">1000</text>
<line x1="1431.2" y1="281.3" x2="1453.2" y2="281.3" stroke="#000000" stroke-width="2.2" stroke-linecap="butt"/>
<text transform="translate(1425.8 293.7) scale(1 1.02)" font-size="38.8" text-anchor="end" font-weight="normal">2000</text>
<line x1="1431.2" y1="98.9" x2="1453.2" y2="98.9" stroke="#000000" stroke-width="2.2" stroke-linecap="butt"/>
<text transform="translate(1425.8 111.3) scale(1 1.02)" font-size="38.8" text-anchor="end" font-weight="normal">3000</text>
<text transform="translate(1321.9 368.1) rotate(-90) scale(1 1.08)" font-size="39.7" text-anchor="middle" font-weight="normal">Distance Traveled (cm in 5 min)</text>
<path d="M1472.8 646 V428.9 H1503.6 V646" fill="none" stroke="#000000" stroke-width="4.2" stroke-linejoin="miter"/>
<path d="M1526.1 646 V440.1 H1556.9 V646" fill="none" stroke="#0a5297" stroke-width="4.2" stroke-linejoin="miter"/>
<path d="M1579.3 646 V438.7 H1610.1 V646" fill="none" stroke="#00948f" stroke-width="4.2" stroke-linejoin="miter"/>
<path d="M1632.3 646 V414.2 H1663.1 V646" fill="none" stroke="#921552" stroke-width="4.2" stroke-linejoin="miter"/>
<circle cx="1488" cy="323.1" r="4.4" fill="none" stroke="#000000" stroke-width="2.2"/>
<circle cx="1474.7" cy="368.9" r="4.4" fill="none" stroke="#000000" stroke-width="2.2"/>
<circle cx="1488" cy="374.3" r="4.4" fill="none" stroke="#000000" stroke-width="2.2"/>
<circle cx="1501.8" cy="371.2" r="4.4" fill="none" stroke="#000000" stroke-width="2.2"/>
<circle cx="1474.7" cy="400.6" r="4.4" fill="none" stroke="#000000" stroke-width="2.2"/>
<circle cx="1488" cy="399.8" r="4.4" fill="none" stroke="#000000" stroke-width="2.2"/>
<circle cx="1501.8" cy="405.1" r="4.4" fill="none" stroke="#000000" stroke-width="2.2"/>
<circle cx="1488" cy="420.8" r="4.4" fill="none" stroke="#000000" stroke-width="2.2"/>
<circle cx="1481" cy="432.4" r="4.4" fill="none" stroke="#000000" stroke-width="2.2"/>
<circle cx="1495" cy="432.4" r="4.4" fill="none" stroke="#000000" stroke-width="2.2"/>
<circle cx="1488" cy="449.6" r="4.4" fill="none" stroke="#000000" stroke-width="2.2"/>
<circle cx="1474.7" cy="452.7" r="4.4" fill="none" stroke="#000000" stroke-width="2.2"/>
<circle cx="1501.8" cy="460.4" r="4.4" fill="none" stroke="#000000" stroke-width="2.2"/>
<circle cx="1474.7" cy="467.4" r="4.4" fill="none" stroke="#000000" stroke-width="2.2"/>
<circle cx="1488" cy="465.6" r="4.4" fill="none" stroke="#000000" stroke-width="2.2"/>
<circle cx="1501.8" cy="473" r="4.4" fill="none" stroke="#000000" stroke-width="2.2"/>
<circle cx="1481.7" cy="490.8" r="4.4" fill="none" stroke="#000000" stroke-width="2.2"/>
<circle cx="1494.7" cy="489.8" r="4.4" fill="none" stroke="#000000" stroke-width="2.2"/>
<circle cx="1541.3" cy="321" r="4.4" fill="none" stroke="#0a5297" stroke-width="2.2"/>
<circle cx="1541.3" cy="354.4" r="4.4" fill="none" stroke="#0a5297" stroke-width="2.2"/>
<circle cx="1541.3" cy="383.8" r="4.4" fill="none" stroke="#0a5297" stroke-width="2.2"/>
<circle cx="1541.3" cy="398.1" r="4.4" fill="none" stroke="#0a5297" stroke-width="2.2"/>
<circle cx="1528" cy="421.6" r="4.4" fill="none" stroke="#0a5297" stroke-width="2.2"/>
<circle cx="1541.3" cy="422.6" r="4.4" fill="none" stroke="#0a5297" stroke-width="2.2"/>
<circle cx="1555.3" cy="423" r="4.4" fill="none" stroke="#0a5297" stroke-width="2.2"/>
<circle cx="1534.3" cy="438" r="4.4" fill="none" stroke="#0a5297" stroke-width="2.2"/>
<circle cx="1548.3" cy="438" r="4.4" fill="none" stroke="#0a5297" stroke-width="2.2"/>
<circle cx="1541.3" cy="457.6" r="4.4" fill="none" stroke="#0a5297" stroke-width="2.2"/>
<circle cx="1555.3" cy="456.9" r="4.4" fill="none" stroke="#0a5297" stroke-width="2.2"/>
<circle cx="1528" cy="465.3" r="4.4" fill="none" stroke="#0a5297" stroke-width="2.2"/>
<circle cx="1541.3" cy="470.9" r="4.4" fill="none" stroke="#0a5297" stroke-width="2.2"/>
<circle cx="1555.3" cy="472.6" r="4.4" fill="none" stroke="#0a5297" stroke-width="2.2"/>
<circle cx="1528" cy="477.9" r="4.4" fill="none" stroke="#0a5297" stroke-width="2.2"/>
<circle cx="1541.3" cy="482.8" r="4.4" fill="none" stroke="#0a5297" stroke-width="2.2"/>
<circle cx="1555.3" cy="481.4" r="4.4" fill="none" stroke="#0a5297" stroke-width="2.2"/>
<circle cx="1541.3" cy="510.2" r="4.4" fill="none" stroke="#0a5297" stroke-width="2.2"/>
<path d="M1590 377.5 L1593.9 384.8 L1586.1 384.8 Z" fill="none" stroke="#00948f" stroke-width="2.3" stroke-linejoin="round"/>
<path d="M1599.4 381 L1603.3 388.3 L1595.5 388.3 Z" fill="none" stroke="#00948f" stroke-width="2.3" stroke-linejoin="round"/>
<path d="M1608.5 377.2 L1612.4 384.5 L1604.6 384.5 Z" fill="none" stroke="#00948f" stroke-width="2.3" stroke-linejoin="round"/>
<path d="M1599.4 397.8 L1603.3 405.1 L1595.5 405.1 Z" fill="none" stroke="#00948f" stroke-width="2.3" stroke-linejoin="round"/>
<path d="M1590 402.7 L1593.9 410 L1586.1 410 Z" fill="none" stroke="#00948f" stroke-width="2.3" stroke-linejoin="round"/>
<path d="M1590 416 L1593.9 423.3 L1586.1 423.3 Z" fill="none" stroke="#00948f" stroke-width="2.3" stroke-linejoin="round"/>
<path d="M1599.4 416.7 L1603.3 424 L1595.5 424 Z" fill="none" stroke="#00948f" stroke-width="2.3" stroke-linejoin="round"/>
<path d="M1580.8 420.2 L1584.7 427.5 L1576.9 427.5 Z" fill="none" stroke="#00948f" stroke-width="2.3" stroke-linejoin="round"/>
<path d="M1608.5 420.2 L1612.4 427.5 L1604.6 427.5 Z" fill="none" stroke="#00948f" stroke-width="2.3" stroke-linejoin="round"/>
<path d="M1590 427.2 L1593.9 434.5 L1586.1 434.5 Z" fill="none" stroke="#00948f" stroke-width="2.3" stroke-linejoin="round"/>
<path d="M1599.4 427.9 L1603.3 435.2 L1595.5 435.2 Z" fill="none" stroke="#00948f" stroke-width="2.3" stroke-linejoin="round"/>
<path d="M1590 441.9 L1593.9 449.2 L1586.1 449.2 Z" fill="none" stroke="#00948f" stroke-width="2.3" stroke-linejoin="round"/>
<path d="M1599.4 440.5 L1603.3 447.8 L1595.5 447.8 Z" fill="none" stroke="#00948f" stroke-width="2.3" stroke-linejoin="round"/>
<path d="M1599.4 451 L1603.3 458.3 L1595.5 458.3 Z" fill="none" stroke="#00948f" stroke-width="2.3" stroke-linejoin="round"/>
<path d="M1590 455.2 L1593.9 462.5 L1586.1 462.5 Z" fill="none" stroke="#00948f" stroke-width="2.3" stroke-linejoin="round"/>
<path d="M1599.4 465.7 L1603.3 473 L1595.5 473 Z" fill="none" stroke="#00948f" stroke-width="2.3" stroke-linejoin="round"/>
<path d="M1590 468.5 L1593.9 475.8 L1586.1 475.8 Z" fill="none" stroke="#00948f" stroke-width="2.3" stroke-linejoin="round"/>
<path d="M1594.5 509.9 L1598.4 517.2 L1590.6 517.2 Z" fill="none" stroke="#00948f" stroke-width="2.3" stroke-linejoin="round"/>
<path d="M1594.5 521.5 L1598.4 528.8 L1590.6 528.8 Z" fill="none" stroke="#00948f" stroke-width="2.3" stroke-linejoin="round"/>
<rect x="1657.5" y="338.7" width="8.0" height="8.0" fill="none" stroke="#921552" stroke-width="2.6"/>
<rect x="1643.7" y="342.9" width="8.0" height="8.0" fill="none" stroke="#921552" stroke-width="2.6"/>
<rect x="1630.4" y="352" width="8.0" height="8.0" fill="none" stroke="#921552" stroke-width="2.6"/>
<rect x="1643.7" y="357.6" width="8.0" height="8.0" fill="none" stroke="#921552" stroke-width="2.6"/>
<rect x="1657.5" y="356.2" width="8.0" height="8.0" fill="none" stroke="#921552" stroke-width="2.6"/>
<rect x="1643.7" y="368.2" width="8.0" height="8.0" fill="none" stroke="#921552" stroke-width="2.6"/>
<rect x="1643.7" y="389.6" width="8.0" height="8.0" fill="none" stroke="#921552" stroke-width="2.6"/>
<rect x="1657.5" y="387.8" width="8.0" height="8.0" fill="none" stroke="#921552" stroke-width="2.6"/>
<rect x="1630.4" y="397.6" width="8.0" height="8.0" fill="none" stroke="#921552" stroke-width="2.6"/>
<rect x="1643.7" y="403.6" width="8.0" height="8.0" fill="none" stroke="#921552" stroke-width="2.6"/>
<rect x="1657.5" y="400.4" width="8.0" height="8.0" fill="none" stroke="#921552" stroke-width="2.6"/>
<rect x="1630.4" y="404.6" width="8.0" height="8.0" fill="none" stroke="#921552" stroke-width="2.6"/>
<rect x="1643.7" y="438.2" width="8.0" height="8.0" fill="none" stroke="#921552" stroke-width="2.6"/>
<rect x="1657.5" y="440" width="8.0" height="8.0" fill="none" stroke="#921552" stroke-width="2.6"/>
<rect x="1630.4" y="444.8" width="8.0" height="8.0" fill="none" stroke="#921552" stroke-width="2.6"/>
<rect x="1657.5" y="452.9" width="8.0" height="8.0" fill="none" stroke="#921552" stroke-width="2.6"/>
<rect x="1643.7" y="457.8" width="8.0" height="8.0" fill="none" stroke="#921552" stroke-width="2.6"/>
<rect x="1643.7" y="479.5" width="8.0" height="8.0" fill="none" stroke="#921552" stroke-width="2.6"/>
<rect x="1643.7" y="524.4" width="8.0" height="8.0" fill="none" stroke="#921552" stroke-width="2.6"/>
<path d="M1488.2 415.2 V438 M1479.7 415.2 H1496.7 M1479.7 438 H1496.7" fill="none" stroke="#000000" stroke-width="4" stroke-linecap="round"/>
<path d="M1541.5 426.1 V449.2 M1533 426.1 H1550 M1533 449.2 H1550" fill="none" stroke="#0a5297" stroke-width="4" stroke-linecap="round"/>
<path d="M1594.7 426.8 V445.7 M1586.2 426.8 H1603.2 M1586.2 445.7 H1603.2" fill="none" stroke="#00948f" stroke-width="4" stroke-linecap="round"/>
<path d="M1647.7 399.8 V423.3 M1639.2 399.8 H1656.2 M1639.2 423.3 H1656.2" fill="none" stroke="#921552" stroke-width="4" stroke-linecap="round"/>
<text transform="translate(1497.3 672.8) rotate(-45)" font-size="38" text-anchor="end" font-weight="normal" class="xl">Veh</text>
<text transform="translate(1543.5 679.9) rotate(-45)" font-size="38" text-anchor="end" font-weight="normal" class="xl">(3) U50</text>
<text transform="translate(1603.9 672.8) rotate(-45)" font-size="38" text-anchor="end" font-weight="normal" class="xl">(15) Tri1.1</text>
<text transform="translate(1649.8 679.4) rotate(-45)" font-size="38" text-anchor="end" font-weight="normal" class="xl">(5) Tri 187</text>
</g>
<g>
<line x1="198" y1="975.9" x2="198" y2="1523.9" stroke="#000000" stroke-width="2.2" stroke-linecap="butt"/>
<line x1="186.6" y1="1522.8" x2="428.6" y2="1522.8" stroke="#000000" stroke-width="2.2" stroke-linecap="butt"/>
<text transform="translate(180.7 1535.2) scale(1 1.02)" font-size="38.8" text-anchor="end" font-weight="normal">0</text>
<line x1="186.6" y1="1386.2" x2="198" y2="1386.2" stroke="#000000" stroke-width="2.2" stroke-linecap="butt"/>
<text transform="translate(180.7 1398.6) scale(1 1.02)" font-size="38.8" text-anchor="end" font-weight="normal">20</text>
<line x1="186.6" y1="1249.4" x2="198" y2="1249.4" stroke="#000000" stroke-width="2.2" stroke-linecap="butt"/>
<text transform="translate(180.7 1261.8) scale(1 1.02)" font-size="38.8" text-anchor="end" font-weight="normal">40</text>
<line x1="186.6" y1="1112.7" x2="198" y2="1112.7" stroke="#000000" stroke-width="2.2" stroke-linecap="butt"/>
<text transform="translate(180.7 1125.1) scale(1 1.02)" font-size="38.8" text-anchor="end" font-weight="normal">60</text>
<line x1="186.6" y1="976.4" x2="198" y2="976.4" stroke="#000000" stroke-width="2.2" stroke-linecap="butt"/>
<text transform="translate(180.7 988.8) scale(1 1.02)" font-size="38.8" text-anchor="end" font-weight="normal">80</text>
<line x1="244.1" y1="1522.8" x2="244.1" y2="1534.3" stroke="#000000" stroke-width="2.2" stroke-linecap="butt"/>
<line x1="313.4" y1="1522.8" x2="313.4" y2="1534.3" stroke="#000000" stroke-width="2.2" stroke-linecap="butt"/>
<line x1="382.7" y1="1522.8" x2="382.7" y2="1534.3" stroke="#000000" stroke-width="2.2" stroke-linecap="butt"/>
<text transform="translate(109.5 1244.45) rotate(-90) scale(1 1.08)" font-size="39.7" text-anchor="middle" font-weight="normal">% Time Spent in Open Arms</text>
<path d="M222.35 1522.8 V1366.3 H265.85 V1522.8" fill="none" stroke="#000000" stroke-width="2.2" stroke-linejoin="miter"/>
<path d="M292.55 1522.8 V1349.3 H334.05 V1522.8" fill="none" stroke="#921552" stroke-width="4.2" stroke-linejoin="miter"/>
<path d="M362.45 1522.8 V1294.2 H403.95 V1522.8" fill="none" stroke="#921552" stroke-width="4.2" stroke-linejoin="miter"/>
<g fill="none" stroke="#000000" stroke-width="2.0"><circle cx="244" cy="1235.7" r="4.3"/><path d="M244 1240 V1248 M239.7 1243.1 H248.3"/></g>
<g fill="none" stroke="#000000" stroke-width="2.0"><circle cx="247.5" cy="1272.8" r="4.3"/><path d="M247.5 1277.1 V1285.1 M243.2 1280.2 H251.8"/></g>
<g fill="none" stroke="#000000" stroke-width="2.0"><circle cx="240.1" cy="1287.1" r="4.3"/><path d="M240.1 1291.4 V1299.4 M235.8 1294.5 H244.4"/></g>
<g fill="none" stroke="#000000" stroke-width="2.0"><circle cx="251.8" cy="1308.9" r="4.3"/><path d="M251.8 1313.2 V1321.2 M247.5 1316.3 H256.1"/></g>
<g fill="none" stroke="#000000" stroke-width="2.0"><circle cx="244.1" cy="1320.1" r="4.3"/><path d="M244.1 1324.4 V1332.4 M239.8 1327.5 H248.4"/></g>
<g fill="none" stroke="#000000" stroke-width="2.0"><circle cx="236.7" cy="1327.8" r="4.3"/><path d="M236.7 1332.1 V1340.1 M232.4 1335.2 H241"/></g>
<g fill="none" stroke="#000000" stroke-width="2.0"><circle cx="251.8" cy="1331.3" r="4.3"/><path d="M251.8 1335.6 V1343.6 M247.5 1338.7 H256.1"/></g>
<g fill="none" stroke="#000000" stroke-width="2.0"><circle cx="244.1" cy="1341.1" r="4.3"/><path d="M244.1 1345.4 V1353.4 M239.8 1348.5 H248.4"/></g>
<g fill="none" stroke="#000000" stroke-width="2.0"><circle cx="236.7" cy="1372.7" r="4.3"/><path d="M236.7 1377 V1385 M232.4 1380.1 H241"/></g>
<g fill="none" stroke="#000000" stroke-width="2.0"><circle cx="244.1" cy="1386" r="4.3"/><path d="M244.1 1390.3 V1398.3 M239.8 1393.4 H248.4"/></g>
<g fill="none" stroke="#000000" stroke-width="2.0"><circle cx="236.7" cy="1397.9" r="4.3"/><path d="M236.7 1402.2 V1410.2 M232.4 1405.3 H241"/></g>
<g fill="none" stroke="#000000" stroke-width="2.0"><circle cx="251.8" cy="1398.6" r="4.3"/><path d="M251.8 1402.9 V1410.9 M247.5 1406 H256.1"/></g>
<g fill="none" stroke="#000000" stroke-width="2.0"><circle cx="229.4" cy="1407" r="4.3"/><path d="M229.4 1411.3 V1419.3 M225.1 1414.4 H233.7"/></g>
<g fill="none" stroke="#000000" stroke-width="2.0"><circle cx="244.1" cy="1411.9" r="4.3"/><path d="M244.1 1416.2 V1424.2 M239.8 1419.3 H248.4"/></g>
<g fill="none" stroke="#000000" stroke-width="2.0"><circle cx="236.7" cy="1419.6" r="4.3"/><path d="M236.7 1423.9 V1431.9 M232.4 1427 H241"/></g>
<g fill="none" stroke="#000000" stroke-width="2.0"><circle cx="251.8" cy="1421.7" r="4.3"/><path d="M251.8 1426 V1434 M247.5 1429.1 H256.1"/></g>
<g fill="none" stroke="#000000" stroke-width="2.0"><circle cx="258.8" cy="1418.2" r="4.3"/><path d="M258.8 1422.5 V1430.5 M254.5 1425.6 H263.1"/></g>
<g fill="none" stroke="#000000" stroke-width="2.0"><circle cx="244.1" cy="1437.8" r="4.3"/><path d="M244.1 1442.1 V1450.1 M239.8 1445.2 H248.4"/></g>
<g fill="none" stroke="#921552" stroke-width="2.0"><circle cx="313.3" cy="1188.1" r="4.3"/><path d="M313.3 1192.4 V1200.4 M309 1195.5 H317.6"/></g>
<g fill="none" stroke="#921552" stroke-width="2.0"><circle cx="313.3" cy="1218.7" r="4.3"/><path d="M313.3 1223 V1231 M309 1226.1 H317.6"/></g>
<g fill="none" stroke="#921552" stroke-width="2.0"><circle cx="313.3" cy="1287.1" r="4.3"/><path d="M313.3 1291.4 V1299.4 M309 1294.5 H317.6"/></g>
<g fill="none" stroke="#921552" stroke-width="2.0"><circle cx="305.8" cy="1333.4" r="4.3"/><path d="M305.8 1337.7 V1345.7 M301.5 1340.8 H310.1"/></g>
<g fill="none" stroke="#921552" stroke-width="2.0"><circle cx="320.8" cy="1339.7" r="4.3"/><path d="M320.8 1344 V1352 M316.5 1347.1 H325.1"/></g>
<g fill="none" stroke="#921552" stroke-width="2.0"><circle cx="305.8" cy="1365" r="4.3"/><path d="M305.8 1369.3 V1377.3 M301.5 1372.4 H310.1"/></g>
<g fill="none" stroke="#921552" stroke-width="2.0"><circle cx="320.8" cy="1376.9" r="4.3"/><path d="M320.8 1381.2 V1389.2 M316.5 1384.3 H325.1"/></g>
<g fill="none" stroke="#921552" stroke-width="2.0"><circle cx="313.5" cy="1432.2" r="4.3"/><path d="M313.5 1436.5 V1444.5 M309.2 1439.6 H317.8"/></g>
<g fill="none" stroke="#921552" stroke-width="2.0"><circle cx="298.8" cy="1446.9" r="4.3"/><path d="M298.8 1451.2 V1459.2 M294.5 1454.3 H303.1"/></g>
<g fill="none" stroke="#921552" stroke-width="2.0"><circle cx="328.2" cy="1442" r="4.3"/><path d="M328.2 1446.3 V1454.3 M323.9 1449.4 H332.5"/></g>
<g fill="none" stroke="#921552" stroke-width="2.0"><circle cx="382.8" cy="1100.2" r="4.3"/><path d="M382.8 1104.5 V1112.5 M378.5 1107.6 H387.1"/></g>
<g fill="none" stroke="#921552" stroke-width="2.0"><circle cx="382.8" cy="1171.2" r="4.3"/><path d="M382.8 1175.5 V1183.5 M378.5 1178.6 H387.1"/></g>
<g fill="none" stroke="#921552" stroke-width="2.0"><circle cx="382.8" cy="1192" r="4.3"/><path d="M382.8 1196.3 V1204.3 M378.5 1199.4 H387.1"/></g>
<g fill="none" stroke="#921552" stroke-width="2.0"><circle cx="382.8" cy="1244.4" r="4.3"/><path d="M382.8 1248.7 V1256.7 M378.5 1251.8 H387.1"/></g>
<g fill="none" stroke="#921552" stroke-width="2.0"><circle cx="377.8" cy="1264.3" r="4.3"/><path d="M377.8 1268.6 V1276.6 M373.5 1271.7 H382.1"/></g>
<g fill="none" stroke="#921552" stroke-width="2.0"><circle cx="387.6" cy="1262.1" r="4.3"/><path d="M387.6 1266.4 V1274.4 M383.3 1269.5 H391.9"/></g>
<g fill="none" stroke="#921552" stroke-width="2.0"><circle cx="368" cy="1277.3" r="4.3"/><path d="M368 1281.6 V1289.6 M363.7 1284.7 H372.3"/></g>
<g fill="none" stroke="#921552" stroke-width="2.0"><circle cx="397.3" cy="1276.7" r="4.3"/><path d="M397.3 1281 V1289 M393 1284.1 H401.6"/></g>
<g fill="none" stroke="#921552" stroke-width="2.0"><circle cx="373" cy="1299.8" r="4.3"/><path d="M373 1304.1 V1312.1 M368.7 1307.2 H377.3"/></g>
<g fill="none" stroke="#921552" stroke-width="2.0"><circle cx="382.8" cy="1311" r="4.3"/><path d="M382.8 1315.3 V1323.3 M378.5 1318.4 H387.1"/></g>
<g fill="none" stroke="#921552" stroke-width="2.0"><circle cx="393.1" cy="1309.6" r="4.3"/><path d="M393.1 1313.9 V1321.9 M388.8 1317 H397.4"/></g>
<g fill="none" stroke="#921552" stroke-width="2.0"><circle cx="377.9" cy="1362.9" r="4.3"/><path d="M377.9 1367.2 V1375.2 M373.6 1370.3 H382.2"/></g>
<g fill="none" stroke="#921552" stroke-width="2.0"><circle cx="387.7" cy="1367.8" r="4.3"/><path d="M387.7 1372.1 V1380.1 M383.4 1375.2 H392"/></g>
<g fill="none" stroke="#921552" stroke-width="2.0"><circle cx="382.8" cy="1388.1" r="4.3"/><path d="M382.8 1392.4 V1400.4 M378.5 1395.5 H387.1"/></g>
<g fill="none" stroke="#921552" stroke-width="2.0"><circle cx="373" cy="1394.4" r="4.3"/><path d="M373 1398.7 V1406.7 M368.7 1401.8 H377.3"/></g>
<g fill="none" stroke="#921552" stroke-width="2.0"><circle cx="392.6" cy="1391.6" r="4.3"/><path d="M392.6 1395.9 V1403.9 M388.3 1399 H396.9"/></g>
<path d="M244.1 1350.7 V1379 M231.6 1350.7 H256.6 M231.6 1379 H256.6" fill="none" stroke="#000000" stroke-width="2" stroke-linecap="butt"/>
<path d="M313.4 1318.4 V1374.8 M300.9 1318.4 H325.9 M300.9 1374.8 H325.9" fill="none" stroke="#921552" stroke-width="2" stroke-linecap="butt"/>
<path d="M383 1270.8 V1312.4 M370.5 1270.8 H395.5 M370.5 1312.4 H395.5" fill="none" stroke="#921552" stroke-width="2" stroke-linecap="butt"/>
<path d="M244.1 1214.5 V1053.3 H383 V1078.8" fill="none" stroke="#000000" stroke-width="2.2"/>
<text transform="translate(313.9 1048.2) scale(1 1.06)" font-family="'DejaVu Sans', sans-serif" font-weight="700" font-size="47" text-anchor="middle" letter-spacing="1" stroke="#000" stroke-width="1.7" stroke-linejoin="miter">*</text>
<text transform="translate(253.2 1565.3) rotate(-45)" font-size="38" text-anchor="end" font-weight="normal" class="xl">Veh</text>
<text transform="translate(315.05 1571.8) rotate(-45)" font-size="38" text-anchor="end" font-weight="normal" class="xl">(5) Tri 187</text>
<text transform="translate(391.6 1563.9) rotate(-45)" font-size="38" text-anchor="end" font-weight="normal" class="xl">(10) Tri 187</text>
</g>
<g>
<line x1="620.5" y1="973.3" x2="620.5" y2="1521.3" stroke="#000000" stroke-width="2.2" stroke-linecap="butt"/>
<line x1="609" y1="1520.2" x2="852" y2="1520.2" stroke="#000000" stroke-width="2.2" stroke-linecap="butt"/>
<text transform="translate(603 1532.6) scale(1 1.02)" font-size="38.8" text-anchor="end" font-weight="normal">0</text>
<line x1="609" y1="1383.4" x2="620.5" y2="1383.4" stroke="#000000" stroke-width="2.2" stroke-linecap="butt"/>
<text transform="translate(603 1395.8) scale(1 1.02)" font-size="38.8" text-anchor="end" font-weight="normal">20</text>
<line x1="609" y1="1246.8" x2="620.5" y2="1246.8" stroke="#000000" stroke-width="2.2" stroke-linecap="butt"/>
<text transform="translate(603 1259.2) scale(1 1.02)" font-size="38.8" text-anchor="end" font-weight="normal">40</text>
<line x1="609" y1="1110.8" x2="620.5" y2="1110.8" stroke="#000000" stroke-width="2.2" stroke-linecap="butt"/>
<text transform="translate(603 1123.2) scale(1 1.02)" font-size="38.8" text-anchor="end" font-weight="normal">60</text>
<line x1="609" y1="973.8" x2="620.5" y2="973.8" stroke="#000000" stroke-width="2.2" stroke-linecap="butt"/>
<text transform="translate(603 986.2) scale(1 1.02)" font-size="38.8" text-anchor="end" font-weight="normal">80</text>
<line x1="666.7" y1="1520.2" x2="666.7" y2="1531.7" stroke="#000000" stroke-width="2.2" stroke-linecap="butt"/>
<line x1="736.1" y1="1520.2" x2="736.1" y2="1531.7" stroke="#000000" stroke-width="2.2" stroke-linecap="butt"/>
<line x1="805.4" y1="1520.2" x2="805.4" y2="1531.7" stroke="#000000" stroke-width="2.2" stroke-linecap="butt"/>
<text transform="translate(532.5 1242.5) rotate(-90) scale(1 1.08)" font-size="39.7" text-anchor="middle" font-weight="normal">% Time Distal Open Arms</text>
<path d="M644.95 1520.2 V1314.4 H688.45 V1520.2" fill="none" stroke="#000000" stroke-width="2.2" stroke-linejoin="miter"/>
<path d="M715.35 1520.2 V1255.3 H757.05 V1520.2" fill="none" stroke="#921552" stroke-width="4.2" stroke-linejoin="miter"/>
<path d="M784.65 1520.2 V1275.6 H826.15 V1520.2" fill="none" stroke="#921552" stroke-width="4.2" stroke-linejoin="miter"/>
<g fill="none" stroke="#000000" stroke-width="2.0"><circle cx="666.7" cy="1056.1" r="4.3"/><path d="M666.7 1060.4 V1068.4 M662.4 1063.5 H671"/></g>
<g fill="none" stroke="#000000" stroke-width="2.0"><circle cx="666.7" cy="1122" r="4.3"/><path d="M666.7 1126.3 V1134.3 M662.4 1129.4 H671"/></g>
<g fill="none" stroke="#000000" stroke-width="2.0"><circle cx="666.7" cy="1198.3" r="4.3"/><path d="M666.7 1202.6 V1210.6 M662.4 1205.7 H671"/></g>
<g fill="none" stroke="#000000" stroke-width="2.0"><circle cx="674.1" cy="1222.1" r="4.3"/><path d="M674.1 1226.4 V1234.4 M669.8 1229.5 H678.4"/></g>
<g fill="none" stroke="#000000" stroke-width="2.0"><circle cx="666.7" cy="1238.2" r="4.3"/><path d="M666.7 1242.5 V1250.5 M662.4 1245.6 H671"/></g>
<g fill="none" stroke="#000000" stroke-width="2.0"><circle cx="659.4" cy="1240.6" r="4.3"/><path d="M659.4 1244.9 V1252.9 M655.1 1248 H663.7"/></g>
<g fill="none" stroke="#000000" stroke-width="2.0"><circle cx="659.4" cy="1262.1" r="4.3"/><path d="M659.4 1266.4 V1274.4 M655.1 1269.5 H663.7"/></g>
<g fill="none" stroke="#000000" stroke-width="2.0"><circle cx="666.6" cy="1273.2" r="4.3"/><path d="M666.6 1277.5 V1285.5 M662.3 1280.6 H670.9"/></g>
<g fill="none" stroke="#000000" stroke-width="2.0"><circle cx="666.6" cy="1317.3" r="4.3"/><path d="M666.6 1321.6 V1329.6 M662.3 1324.7 H670.9"/></g>
<g fill="none" stroke="#000000" stroke-width="2.0"><circle cx="652.1" cy="1323.6" r="4.3"/><path d="M652.1 1327.9 V1335.9 M647.8 1331 H656.4"/></g>
<g fill="none" stroke="#000000" stroke-width="2.0"><circle cx="681.2" cy="1325.2" r="4.3"/><path d="M681.2 1329.5 V1337.5 M676.9 1332.6 H685.5"/></g>
<g fill="none" stroke="#000000" stroke-width="2.0"><circle cx="660" cy="1329.1" r="4.3"/><path d="M660 1333.4 V1341.4 M655.7 1336.5 H664.3"/></g>
<g fill="none" stroke="#000000" stroke-width="2.0"><circle cx="674.1" cy="1333.8" r="4.3"/><path d="M674.1 1338.1 V1346.1 M669.8 1341.2 H678.4"/></g>
<g fill="none" stroke="#000000" stroke-width="2.0"><circle cx="659.2" cy="1345.7" r="4.3"/><path d="M659.2 1350 V1358 M654.9 1353.1 H663.5"/></g>
<g fill="none" stroke="#000000" stroke-width="2.0"><circle cx="666.6" cy="1425.3" r="4.3"/><path d="M666.6 1429.6 V1437.6 M662.3 1432.7 H670.9"/></g>
<g fill="none" stroke="#000000" stroke-width="2.0"><circle cx="659.2" cy="1517.5" r="4.3"/><path d="M659.2 1521.8 V1529.8 M654.9 1524.9 H663.5"/></g>
<g fill="none" stroke="#000000" stroke-width="2.0"><circle cx="666.6" cy="1517.5" r="4.3"/><path d="M666.6 1521.8 V1529.8 M662.3 1524.9 H670.9"/></g>
<g fill="none" stroke="#000000" stroke-width="2.0"><circle cx="674.1" cy="1517.5" r="4.3"/><path d="M674.1 1521.8 V1529.8 M669.8 1524.9 H678.4"/></g>
<g fill="none" stroke="#921552" stroke-width="2.0"><circle cx="736.1" cy="1103" r="4.3"/><path d="M736.1 1107.3 V1115.3 M731.8 1110.4 H740.4"/></g>
<g fill="none" stroke="#921552" stroke-width="2.0"><circle cx="721.3" cy="1154.9" r="4.3"/><path d="M721.3 1159.2 V1167.2 M717 1162.3 H725.6"/></g>
<g fill="none" stroke="#921552" stroke-width="2.0"><circle cx="750.8" cy="1157" r="4.3"/><path d="M750.8 1161.3 V1169.3 M746.5 1164.4 H755.1"/></g>
<g fill="none" stroke="#921552" stroke-width="2.0"><circle cx="736.1" cy="1169.6" r="4.3"/><path d="M736.1 1173.9 V1181.9 M731.8 1177 H740.4"/></g>
<g fill="none" stroke="#921552" stroke-width="2.0"><circle cx="750.8" cy="1234.7" r="4.3"/><path d="M750.8 1239 V1247 M746.5 1242.1 H755.1"/></g>
<g fill="none" stroke="#921552" stroke-width="2.0"><circle cx="736.1" cy="1250.2" r="4.3"/><path d="M736.1 1254.5 V1262.5 M731.8 1257.6 H740.4"/></g>
<g fill="none" stroke="#921552" stroke-width="2.0"><circle cx="721.3" cy="1262.8" r="4.3"/><path d="M721.3 1267.1 V1275.1 M717 1270.2 H725.6"/></g>
<g fill="none" stroke="#921552" stroke-width="2.0"><circle cx="750.8" cy="1262.8" r="4.3"/><path d="M750.8 1267.1 V1275.1 M746.5 1270.2 H755.1"/></g>
<g fill="none" stroke="#921552" stroke-width="2.0"><circle cx="735.9" cy="1379.6" r="4.3"/><path d="M735.9 1383.9 V1391.9 M731.6 1387 H740.2"/></g>
<g fill="none" stroke="#921552" stroke-width="2.0"><circle cx="735.9" cy="1516.7" r="4.3"/><path d="M735.9 1521 V1529 M731.6 1524.1 H740.2"/></g>
<g fill="none" stroke="#921552" stroke-width="2.0"><circle cx="798.1" cy="1115.7" r="4.3"/><path d="M798.1 1120 V1128 M793.8 1123.1 H802.4"/></g>
<g fill="none" stroke="#921552" stroke-width="2.0"><circle cx="812.8" cy="1118.5" r="4.3"/><path d="M812.8 1122.8 V1130.8 M808.5 1125.9 H817.1"/></g>
<g fill="none" stroke="#921552" stroke-width="2.0"><circle cx="820.3" cy="1140.6" r="4.3"/><path d="M820.3 1144.9 V1152.9 M816 1148 H824.6"/></g>
<g fill="none" stroke="#921552" stroke-width="2.0"><circle cx="805.4" cy="1150" r="4.3"/><path d="M805.4 1154.3 V1162.3 M801.1 1157.4 H809.7"/></g>
<g fill="none" stroke="#921552" stroke-width="2.0"><circle cx="812.8" cy="1167.5" r="4.3"/><path d="M812.8 1171.8 V1179.8 M808.5 1174.9 H817.1"/></g>
<g fill="none" stroke="#921552" stroke-width="2.0"><circle cx="798.1" cy="1177.3" r="4.3"/><path d="M798.1 1181.6 V1189.6 M793.8 1184.7 H802.4"/></g>
<g fill="none" stroke="#921552" stroke-width="2.0"><circle cx="790.8" cy="1281.8" r="4.3"/><path d="M790.8 1286.1 V1294.1 M786.5 1289.2 H795.1"/></g>
<g fill="none" stroke="#921552" stroke-width="2.0"><circle cx="820" cy="1281" r="4.3"/><path d="M820 1285.3 V1293.3 M815.7 1288.4 H824.3"/></g>
<g fill="none" stroke="#921552" stroke-width="2.0"><circle cx="805.3" cy="1291.3" r="4.3"/><path d="M805.3 1295.6 V1303.6 M801 1298.7 H809.6"/></g>
<g fill="none" stroke="#921552" stroke-width="2.0"><circle cx="805.3" cy="1316.5" r="4.3"/><path d="M805.3 1320.8 V1328.8 M801 1323.9 H809.6"/></g>
<g fill="none" stroke="#921552" stroke-width="2.0"><circle cx="790.8" cy="1329.9" r="4.3"/><path d="M790.8 1334.2 V1342.2 M786.5 1337.3 H795.1"/></g>
<g fill="none" stroke="#921552" stroke-width="2.0"><circle cx="805.3" cy="1337.8" r="4.3"/><path d="M805.3 1342.1 V1350.1 M801 1345.2 H809.6"/></g>
<g fill="none" stroke="#921552" stroke-width="2.0"><circle cx="790.8" cy="1348.8" r="4.3"/><path d="M790.8 1353.1 V1361.1 M786.5 1356.2 H795.1"/></g>
<g fill="none" stroke="#921552" stroke-width="2.0"><circle cx="820" cy="1359.1" r="4.3"/><path d="M820 1363.4 V1371.4 M815.7 1366.5 H824.3"/></g>
<g fill="none" stroke="#921552" stroke-width="2.0"><circle cx="805.3" cy="1381.9" r="4.3"/><path d="M805.3 1386.2 V1394.2 M801 1389.3 H809.6"/></g>
<g fill="none" stroke="#921552" stroke-width="2.0"><circle cx="805.3" cy="1516.7" r="4.3"/><path d="M805.3 1521 V1529 M801 1524.1 H809.6"/></g>
<path d="M666.5 1282.6 V1342.8 M654 1282.6 H679 M654 1342.8 H679" fill="none" stroke="#000000" stroke-width="2" stroke-linecap="butt"/>
<path d="M736.1 1214.4 V1291.6 M723.6 1214.4 H748.6 M723.6 1291.6 H748.6" fill="none" stroke="#921552" stroke-width="2" stroke-linecap="butt"/>
<path d="M805.4 1244.8 V1301.8 M792.9 1244.8 H817.9 M792.9 1301.8 H817.9" fill="none" stroke="#921552" stroke-width="2" stroke-linecap="butt"/>
<text transform="translate(675.6 1561.85) rotate(-45)" font-size="38" text-anchor="end" font-weight="normal" class="xl">Veh</text>
<text transform="translate(737.15 1569.95) rotate(-45)" font-size="38" text-anchor="end" font-weight="normal" class="xl">(5) Tri 187</text>
<text transform="translate(814.4 1562.45) rotate(-45)" font-size="38" text-anchor="end" font-weight="normal" class="xl">(10) Tri 187</text>
</g>
<g>
<line x1="1028.3" y1="980.3" x2="1028.3" y2="1530.7" stroke="#000000" stroke-width="2.2" stroke-linecap="butt"/>
<line x1="1016.5" y1="1529.6" x2="1260" y2="1529.6" stroke="#000000" stroke-width="2.2" stroke-linecap="butt"/>
<text transform="translate(1010 1542) scale(1 1.02)" font-size="38.8" text-anchor="end" font-weight="normal">0</text>
<line x1="1016.5" y1="1419.7" x2="1028.3" y2="1419.7" stroke="#000000" stroke-width="2.2" stroke-linecap="butt"/>
<text transform="translate(1010 1432.1) scale(1 1.02)" font-size="38.8" text-anchor="end" font-weight="normal">20</text>
<line x1="1016.5" y1="1309.6" x2="1028.3" y2="1309.6" stroke="#000000" stroke-width="2.2" stroke-linecap="butt"/>
<text transform="translate(1010 1322) scale(1 1.02)" font-size="38.8" text-anchor="end" font-weight="normal">40</text>
<line x1="1016.5" y1="1199.9" x2="1028.3" y2="1199.9" stroke="#000000" stroke-width="2.2" stroke-linecap="butt"/>
<text transform="translate(1010 1212.3) scale(1 1.02)" font-size="38.8" text-anchor="end" font-weight="normal">60</text>
<line x1="1016.5" y1="1090.2" x2="1028.3" y2="1090.2" stroke="#000000" stroke-width="2.2" stroke-linecap="butt"/>
<text transform="translate(1010 1102.6) scale(1 1.02)" font-size="38.8" text-anchor="end" font-weight="normal">80</text>
<line x1="1016.5" y1="980.3" x2="1028.3" y2="980.3" stroke="#000000" stroke-width="2.2" stroke-linecap="butt"/>
<text transform="translate(1010 992.7) scale(1 1.02)" font-size="38.8" text-anchor="end" font-weight="normal">100</text>
<line x1="1074.2" y1="1529.6" x2="1074.2" y2="1541.6" stroke="#000000" stroke-width="2.2" stroke-linecap="butt"/>
<line x1="1144" y1="1529.6" x2="1144" y2="1541.6" stroke="#000000" stroke-width="2.2" stroke-linecap="butt"/>
<line x1="1213.4" y1="1529.6" x2="1213.4" y2="1541.6" stroke="#000000" stroke-width="2.2" stroke-linecap="butt"/>
<text transform="translate(917.8 1254.7) rotate(-90) scale(1 1.08)" font-size="39.7" text-anchor="middle" font-weight="normal">All Arm Entries in 5 min</text>
<path d="M1052.85 1529.6 V1291.6 H1096.15 V1529.6" fill="none" stroke="#000000" stroke-width="2.2" stroke-linejoin="miter"/>
<path d="M1123.35 1529.6 V1261.7 H1164.85 V1529.6" fill="none" stroke="#921552" stroke-width="4.2" stroke-linejoin="miter"/>
<path d="M1192.75 1529.6 V1189.2 H1234.25 V1529.6" fill="none" stroke="#921552" stroke-width="4.2" stroke-linejoin="miter"/>
<g fill="none" stroke="#000000" stroke-width="2.0"><circle cx="1074.3" cy="1059.7" r="4.3"/><path d="M1074.3 1064 V1072 M1070 1067.1 H1078.6"/></g>
<g fill="none" stroke="#000000" stroke-width="2.0"><circle cx="1074.3" cy="1092.5" r="4.3"/><path d="M1074.3 1096.8 V1104.8 M1070 1099.9 H1078.6"/></g>
<g fill="none" stroke="#000000" stroke-width="2.0"><circle cx="1074.3" cy="1186.7" r="4.3"/><path d="M1074.3 1191 V1199 M1070 1194.1 H1078.6"/></g>
<g fill="none" stroke="#000000" stroke-width="2.0"><circle cx="1082" cy="1234.8" r="4.3"/><path d="M1082 1239.1 V1247.1 M1077.7 1242.2 H1086.3"/></g>
<g fill="none" stroke="#000000" stroke-width="2.0"><circle cx="1074.3" cy="1246.5" r="4.3"/><path d="M1074.3 1250.8 V1258.8 M1070 1253.9 H1078.6"/></g>
<g fill="none" stroke="#000000" stroke-width="2.0"><circle cx="1074.2" cy="1278" r="4.3"/><path d="M1074.2 1282.3 V1290.3 M1069.9 1285.4 H1078.5"/></g>
<g fill="none" stroke="#000000" stroke-width="2.0"><circle cx="1074.2" cy="1300.5" r="4.3"/><path d="M1074.2 1304.8 V1312.8 M1069.9 1307.9 H1078.5"/></g>
<g fill="none" stroke="#000000" stroke-width="2.0"><circle cx="1082.1" cy="1306.1" r="4.3"/><path d="M1082.1 1310.4 V1318.4 M1077.8 1313.5 H1086.4"/></g>
<g fill="none" stroke="#000000" stroke-width="2.0"><circle cx="1067" cy="1317.4" r="4.3"/><path d="M1067 1321.7 V1329.7 M1062.7 1324.8 H1071.3"/></g>
<g fill="none" stroke="#000000" stroke-width="2.0"><circle cx="1059.6" cy="1328.6" r="4.3"/><path d="M1059.6 1332.9 V1340.9 M1055.3 1336 H1063.9"/></g>
<g fill="none" stroke="#000000" stroke-width="2.0"><circle cx="1089.4" cy="1323" r="4.3"/><path d="M1089.4 1327.3 V1335.3 M1085.1 1330.4 H1093.7"/></g>
<g fill="none" stroke="#000000" stroke-width="2.0"><circle cx="1074.2" cy="1334.2" r="4.3"/><path d="M1074.2 1338.5 V1346.5 M1069.9 1341.6 H1078.5"/></g>
<g fill="none" stroke="#000000" stroke-width="2.0"><circle cx="1082.1" cy="1328.6" r="4.3"/><path d="M1082.1 1332.9 V1340.9 M1077.8 1336 H1086.4"/></g>
<g fill="none" stroke="#000000" stroke-width="2.0"><circle cx="1067" cy="1339.8" r="4.3"/><path d="M1067 1344.1 V1352.1 M1062.7 1347.2 H1071.3"/></g>
<g fill="none" stroke="#000000" stroke-width="2.0"><circle cx="1082.1" cy="1351.1" r="4.3"/><path d="M1082.1 1355.4 V1363.4 M1077.8 1358.5 H1086.4"/></g>
<g fill="none" stroke="#000000" stroke-width="2.0"><circle cx="1074.2" cy="1361.5" r="4.3"/><path d="M1074.2 1365.8 V1373.8 M1069.9 1368.9 H1078.5"/></g>
<g fill="none" stroke="#000000" stroke-width="2.0"><circle cx="1082.1" cy="1378.4" r="4.3"/><path d="M1082.1 1382.7 V1390.7 M1077.8 1385.8 H1086.4"/></g>
<g fill="none" stroke="#000000" stroke-width="2.0"><circle cx="1067" cy="1389.6" r="4.3"/><path d="M1067 1393.9 V1401.9 M1062.7 1397 H1071.3"/></g>
<g fill="none" stroke="#921552" stroke-width="2.0"><circle cx="1143.9" cy="1147.3" r="4.3"/><path d="M1143.9 1151.6 V1159.6 M1139.6 1154.7 H1148.2"/></g>
<g fill="none" stroke="#921552" stroke-width="2.0"><circle cx="1143.9" cy="1175" r="4.3"/><path d="M1143.9 1179.3 V1187.3 M1139.6 1182.4 H1148.2"/></g>
<g fill="none" stroke="#921552" stroke-width="2.0"><circle cx="1129.3" cy="1191.8" r="4.3"/><path d="M1129.3 1196.1 V1204.1 M1125 1199.2 H1133.6"/></g>
<g fill="none" stroke="#921552" stroke-width="2.0"><circle cx="1158.9" cy="1191.8" r="4.3"/><path d="M1158.9 1196.1 V1204.1 M1154.6 1199.2 H1163.2"/></g>
<g fill="none" stroke="#921552" stroke-width="2.0"><circle cx="1143.9" cy="1218.8" r="4.3"/><path d="M1143.9 1223.1 V1231.1 M1139.6 1226.2 H1148.2"/></g>
<g fill="none" stroke="#921552" stroke-width="2.0"><circle cx="1144" cy="1278" r="4.3"/><path d="M1144 1282.3 V1290.3 M1139.7 1285.4 H1148.3"/></g>
<g fill="none" stroke="#921552" stroke-width="2.0"><circle cx="1129.1" cy="1318.2" r="4.3"/><path d="M1129.1 1322.5 V1330.5 M1124.8 1325.6 H1133.4"/></g>
<g fill="none" stroke="#921552" stroke-width="2.0"><circle cx="1158.8" cy="1322.2" r="4.3"/><path d="M1158.8 1326.5 V1334.5 M1154.5 1329.6 H1163.1"/></g>
<g fill="none" stroke="#921552" stroke-width="2.0"><circle cx="1144" cy="1329.4" r="4.3"/><path d="M1144 1333.7 V1341.7 M1139.7 1336.8 H1148.3"/></g>
<g fill="none" stroke="#921552" stroke-width="2.0"><circle cx="1144" cy="1389.6" r="4.3"/><path d="M1144 1393.9 V1401.9 M1139.7 1397 H1148.3"/></g>
<g fill="none" stroke="#921552" stroke-width="2.0"><circle cx="1213.4" cy="1075.8" r="4.3"/><path d="M1213.4 1080.1 V1088.1 M1209.1 1083.2 H1217.7"/></g>
<g fill="none" stroke="#921552" stroke-width="2.0"><circle cx="1228.3" cy="1103.5" r="4.3"/><path d="M1228.3 1107.8 V1115.8 M1224 1110.9 H1232.6"/></g>
<g fill="none" stroke="#921552" stroke-width="2.0"><circle cx="1198.8" cy="1115.2" r="4.3"/><path d="M1198.8 1119.5 V1127.5 M1194.5 1122.6 H1203.1"/></g>
<g fill="none" stroke="#921552" stroke-width="2.0"><circle cx="1213.4" cy="1115.2" r="4.3"/><path d="M1213.4 1119.5 V1127.5 M1209.1 1122.6 H1217.7"/></g>
<g fill="none" stroke="#921552" stroke-width="2.0"><circle cx="1228.3" cy="1126.8" r="4.3"/><path d="M1228.3 1131.1 V1139.1 M1224 1134.2 H1232.6"/></g>
<g fill="none" stroke="#921552" stroke-width="2.0"><circle cx="1198.8" cy="1148.7" r="4.3"/><path d="M1198.8 1153 V1161 M1194.5 1156.1 H1203.1"/></g>
<g fill="none" stroke="#921552" stroke-width="2.0"><circle cx="1213.4" cy="1163.3" r="4.3"/><path d="M1213.4 1167.6 V1175.6 M1209.1 1170.7 H1217.7"/></g>
<g fill="none" stroke="#921552" stroke-width="2.0"><circle cx="1228.3" cy="1158.2" r="4.3"/><path d="M1228.3 1162.5 V1170.5 M1224 1165.6 H1232.6"/></g>
<g fill="none" stroke="#921552" stroke-width="2.0"><circle cx="1228.3" cy="1190.3" r="4.3"/><path d="M1228.3 1194.6 V1202.6 M1224 1197.7 H1232.6"/></g>
<g fill="none" stroke="#921552" stroke-width="2.0"><circle cx="1213.4" cy="1201.3" r="4.3"/><path d="M1213.4 1205.6 V1213.6 M1209.1 1208.7 H1217.7"/></g>
<g fill="none" stroke="#921552" stroke-width="2.0"><circle cx="1228.3" cy="1213.7" r="4.3"/><path d="M1228.3 1218 V1226 M1224 1221.1 H1232.6"/></g>
<g fill="none" stroke="#921552" stroke-width="2.0"><circle cx="1198.8" cy="1219.5" r="4.3"/><path d="M1198.8 1223.8 V1231.8 M1194.5 1226.9 H1203.1"/></g>
<g fill="none" stroke="#921552" stroke-width="2.0"><circle cx="1213.4" cy="1235.6" r="4.3"/><path d="M1213.4 1239.9 V1247.9 M1209.1 1243 H1217.7"/></g>
<g fill="none" stroke="#921552" stroke-width="2.0"><circle cx="1206.4" cy="1262.6" r="4.3"/><path d="M1206.4 1266.9 V1274.9 M1202.1 1270 H1210.7"/></g>
<g fill="none" stroke="#921552" stroke-width="2.0"><circle cx="1221" cy="1267.7" r="4.3"/><path d="M1221 1272 V1280 M1216.7 1275.1 H1225.3"/></g>
<g fill="none" stroke="#921552" stroke-width="2.0"><circle cx="1213.4" cy="1328.6" r="4.3"/><path d="M1213.4 1332.9 V1340.9 M1209.1 1336 H1217.7"/></g>
<path d="M1074.3 1268.4 V1312.1 M1061.8 1268.4 H1086.8 M1061.8 1312.1 H1086.8" fill="none" stroke="#000000" stroke-width="2" stroke-linecap="butt"/>
<path d="M1144 1234.1 V1285.3 M1131.5 1234.1 H1156.5 M1131.5 1285.3 H1156.5" fill="none" stroke="#921552" stroke-width="2" stroke-linecap="butt"/>
<path d="M1213.4 1168.4 V1203.7 M1200.9 1168.4 H1225.9 M1200.9 1203.7 H1225.9" fill="none" stroke="#921552" stroke-width="2" stroke-linecap="butt"/>
<path d="M1073.7 1038.6 V1012.9 H1213.7 V1055.5" fill="none" stroke="#000000" stroke-width="2.2"/>
<text transform="translate(1143.9 1006.8) scale(1 1.06)" font-family="'DejaVu Sans', sans-serif" font-weight="700" font-size="47" text-anchor="middle" letter-spacing="1" stroke="#000" stroke-width="1.7" stroke-linejoin="miter">**</text>
<text transform="translate(1083.3 1571.6) rotate(-45)" font-size="38" text-anchor="end" font-weight="normal" class="xl">Veh</text>
<text transform="translate(1144.65 1578.75) rotate(-45)" font-size="38" text-anchor="end" font-weight="normal" class="xl">(5) Tri 187</text>
<text transform="translate(1222.1 1571.75) rotate(-45)" font-size="38" text-anchor="end" font-weight="normal" class="xl">(10) Tri 187</text>
</g>
<g>
<line x1="1459.6" y1="989.5" x2="1459.6" y2="1535.5" stroke="#000000" stroke-width="2.2" stroke-linecap="butt"/>
<line x1="1448.3" y1="1534.4" x2="1689" y2="1534.4" stroke="#000000" stroke-width="2.2" stroke-linecap="butt"/>
<text transform="translate(1442.2 1546.8) scale(1 1.02)" font-size="38.8" text-anchor="end" font-weight="normal">0</text>
<line x1="1448.3" y1="1352.8" x2="1459.6" y2="1352.8" stroke="#000000" stroke-width="2.2" stroke-linecap="butt"/>
<text transform="translate(1442.2 1365.2) scale(1 1.02)" font-size="38.8" text-anchor="end" font-weight="normal">1000</text>
<line x1="1448.3" y1="1171.2" x2="1459.6" y2="1171.2" stroke="#000000" stroke-width="2.2" stroke-linecap="butt"/>
<text transform="translate(1442.2 1183.6) scale(1 1.02)" font-size="38.8" text-anchor="end" font-weight="normal">2000</text>
<line x1="1448.3" y1="989.5" x2="1459.6" y2="989.5" stroke="#000000" stroke-width="2.2" stroke-linecap="butt"/>
<text transform="translate(1442.2 1001.9) scale(1 1.02)" font-size="38.8" text-anchor="end" font-weight="normal">3000</text>
<line x1="1505.1" y1="1534.4" x2="1505.1" y2="1546.4" stroke="#000000" stroke-width="2.2" stroke-linecap="butt"/>
<line x1="1573.8" y1="1534.4" x2="1573.8" y2="1546.4" stroke="#000000" stroke-width="2.2" stroke-linecap="butt"/>
<line x1="1642.6" y1="1534.4" x2="1642.6" y2="1546.4" stroke="#000000" stroke-width="2.2" stroke-linecap="butt"/>
<text transform="translate(1330 1256.25) rotate(-90) scale(1 1.08)" font-size="39.7" text-anchor="middle" font-weight="normal">Distance Traveled (cm in 5 min)</text>
<path d="M1483.85 1534.4 V1279.9 H1526.95 V1534.4" fill="none" stroke="#000000" stroke-width="2.2" stroke-linejoin="miter"/>
<path d="M1553.3 1534.4 V1209.7 H1594.7 V1534.4" fill="none" stroke="#921552" stroke-width="4.2" stroke-linejoin="miter"/>
<path d="M1622.35 1534.4 V1213.1 H1663.65 V1534.4" fill="none" stroke="#921552" stroke-width="4.2" stroke-linejoin="miter"/>
<g fill="none" stroke="#000000" stroke-width="2.0"><circle cx="1505.3" cy="1167.5" r="4.3"/><path d="M1505.3 1171.8 V1179.8 M1501 1174.9 H1509.6"/></g>
<g fill="none" stroke="#000000" stroke-width="2.0"><circle cx="1505" cy="1214.9" r="4.3"/><path d="M1505 1219.2 V1227.2 M1500.7 1222.3 H1509.3"/></g>
<g fill="none" stroke="#000000" stroke-width="2.0"><circle cx="1511.2" cy="1215.6" r="4.3"/><path d="M1511.2 1219.9 V1227.9 M1506.9 1223 H1515.5"/></g>
<g fill="none" stroke="#000000" stroke-width="2.0"><circle cx="1499.2" cy="1224.4" r="4.3"/><path d="M1499.2 1228.7 V1236.7 M1494.9 1231.8 H1503.5"/></g>
<g fill="none" stroke="#000000" stroke-width="2.0"><circle cx="1505.3" cy="1232.4" r="4.3"/><path d="M1505.3 1236.7 V1244.7 M1501 1239.8 H1509.6"/></g>
<g fill="none" stroke="#000000" stroke-width="2.0"><circle cx="1505.3" cy="1256.5" r="4.3"/><path d="M1505.3 1260.8 V1268.8 M1501 1263.9 H1509.6"/></g>
<g fill="none" stroke="#000000" stroke-width="2.0"><circle cx="1505.3" cy="1266.7" r="4.3"/><path d="M1505.3 1271 V1279 M1501 1274.1 H1509.6"/></g>
<g fill="none" stroke="#000000" stroke-width="2.0"><circle cx="1491.2" cy="1282.3" r="4.3"/><path d="M1491.2 1286.6 V1294.6 M1486.9 1289.7 H1495.5"/></g>
<g fill="none" stroke="#000000" stroke-width="2.0"><circle cx="1496.2" cy="1279.8" r="4.3"/><path d="M1496.2 1284.1 V1292.1 M1491.9 1287.2 H1500.5"/></g>
<g fill="none" stroke="#000000" stroke-width="2.0"><circle cx="1507.6" cy="1279" r="4.3"/><path d="M1507.6 1283.3 V1291.3 M1503.3 1286.4 H1511.9"/></g>
<g fill="none" stroke="#000000" stroke-width="2.0"><circle cx="1514.1" cy="1286.3" r="4.3"/><path d="M1514.1 1290.6 V1298.6 M1509.8 1293.7 H1518.4"/></g>
<g fill="none" stroke="#000000" stroke-width="2.0"><circle cx="1519.9" cy="1286.3" r="4.3"/><path d="M1519.9 1290.6 V1298.6 M1515.6 1293.7 H1524.2"/></g>
<g fill="none" stroke="#000000" stroke-width="2.0"><circle cx="1501.9" cy="1291.2" r="4.3"/><path d="M1501.9 1295.5 V1303.5 M1497.6 1298.6 H1506.2"/></g>
<g fill="none" stroke="#000000" stroke-width="2.0"><circle cx="1509.2" cy="1294.5" r="4.3"/><path d="M1509.2 1298.8 V1306.8 M1504.9 1301.9 H1513.5"/></g>
<g fill="none" stroke="#000000" stroke-width="2.0"><circle cx="1503" cy="1308" r="4.3"/><path d="M1503 1312.3 V1320.3 M1498.7 1315.4 H1507.3"/></g>
<g fill="none" stroke="#000000" stroke-width="2.0"><circle cx="1505" cy="1311" r="4.3"/><path d="M1505 1315.3 V1323.3 M1500.7 1318.4 H1509.3"/></g>
<g fill="none" stroke="#000000" stroke-width="2.0"><circle cx="1505.1" cy="1338.7" r="4.3"/><path d="M1505.1 1343 V1351 M1500.8 1346.1 H1509.4"/></g>
<g fill="none" stroke="#000000" stroke-width="2.0"><circle cx="1505.1" cy="1411.4" r="4.3"/><path d="M1505.1 1415.7 V1423.7 M1500.8 1418.8 H1509.4"/></g>
<g fill="none" stroke="#921552" stroke-width="2.0"><circle cx="1573.9" cy="1069" r="4.3"/><path d="M1573.9 1073.3 V1081.3 M1569.6 1076.4 H1578.2"/></g>
<g fill="none" stroke="#921552" stroke-width="2.0"><circle cx="1573.9" cy="1096.7" r="4.3"/><path d="M1573.9 1101 V1109 M1569.6 1104.1 H1578.2"/></g>
<g fill="none" stroke="#921552" stroke-width="2.0"><circle cx="1573.9" cy="1138.3" r="4.3"/><path d="M1573.9 1142.6 V1150.6 M1569.6 1145.7 H1578.2"/></g>
<g fill="none" stroke="#921552" stroke-width="2.0"><circle cx="1559.3" cy="1174" r="4.3"/><path d="M1559.3 1178.3 V1186.3 M1555 1181.4 H1563.6"/></g>
<g fill="none" stroke="#921552" stroke-width="2.0"><circle cx="1588.9" cy="1184.3" r="4.3"/><path d="M1588.9 1188.6 V1196.6 M1584.6 1191.7 H1593.2"/></g>
<g fill="none" stroke="#921552" stroke-width="2.0"><circle cx="1573.9" cy="1218.6" r="4.3"/><path d="M1573.9 1222.9 V1230.9 M1569.6 1226 H1578.2"/></g>
<g fill="none" stroke="#921552" stroke-width="2.0"><circle cx="1573.9" cy="1257.2" r="4.3"/><path d="M1573.9 1261.5 V1269.5 M1569.6 1264.6 H1578.2"/></g>
<g fill="none" stroke="#921552" stroke-width="2.0"><circle cx="1559.6" cy="1289.6" r="4.3"/><path d="M1559.6 1293.9 V1301.9 M1555.3 1297 H1563.9"/></g>
<g fill="none" stroke="#921552" stroke-width="2.0"><circle cx="1589" cy="1296.2" r="4.3"/><path d="M1589 1300.5 V1308.5 M1584.7 1303.6 H1593.3"/></g>
<g fill="none" stroke="#921552" stroke-width="2.0"><circle cx="1573.8" cy="1315" r="4.3"/><path d="M1573.8 1319.3 V1327.3 M1569.5 1322.4 H1578.1"/></g>
<g fill="none" stroke="#921552" stroke-width="2.0"><circle cx="1642.9" cy="1097.4" r="4.3"/><path d="M1642.9 1101.7 V1109.7 M1638.6 1104.8 H1647.2"/></g>
<g fill="none" stroke="#921552" stroke-width="2.0"><circle cx="1642.9" cy="1121.5" r="4.3"/><path d="M1642.9 1125.8 V1133.8 M1638.6 1128.9 H1647.2"/></g>
<g fill="none" stroke="#921552" stroke-width="2.0"><circle cx="1642.9" cy="1143.4" r="4.3"/><path d="M1642.9 1147.7 V1155.7 M1638.6 1150.8 H1647.2"/></g>
<g fill="none" stroke="#921552" stroke-width="2.0"><circle cx="1642.9" cy="1163.1" r="4.3"/><path d="M1642.9 1167.4 V1175.4 M1638.6 1170.5 H1647.2"/></g>
<g fill="none" stroke="#921552" stroke-width="2.0"><circle cx="1628.3" cy="1204.7" r="4.3"/><path d="M1628.3 1209 V1217 M1624 1212.1 H1632.6"/></g>
<g fill="none" stroke="#921552" stroke-width="2.0"><circle cx="1637.8" cy="1202.5" r="4.3"/><path d="M1637.8 1206.8 V1214.8 M1633.5 1209.9 H1642.1"/></g>
<g fill="none" stroke="#921552" stroke-width="2.0"><circle cx="1647.8" cy="1206.2" r="4.3"/><path d="M1647.8 1210.5 V1218.5 M1643.5 1213.6 H1652.1"/></g>
<g fill="none" stroke="#921552" stroke-width="2.0"><circle cx="1657.5" cy="1203.2" r="4.3"/><path d="M1657.5 1207.5 V1215.5 M1653.2 1210.6 H1661.8"/></g>
<g fill="none" stroke="#921552" stroke-width="2.0"><circle cx="1628.3" cy="1219.3" r="4.3"/><path d="M1628.3 1223.6 V1231.6 M1624 1226.7 H1632.6"/></g>
<g fill="none" stroke="#921552" stroke-width="2.0"><circle cx="1657.5" cy="1219.3" r="4.3"/><path d="M1657.5 1223.6 V1231.6 M1653.2 1226.7 H1661.8"/></g>
<g fill="none" stroke="#921552" stroke-width="2.0"><circle cx="1647.8" cy="1222.9" r="4.3"/><path d="M1647.8 1227.2 V1235.2 M1643.5 1230.3 H1652.1"/></g>
<g fill="none" stroke="#921552" stroke-width="2.0"><circle cx="1637.8" cy="1255.8" r="4.3"/><path d="M1637.8 1260.1 V1268.1 M1633.5 1263.2 H1642.1"/></g>
<g fill="none" stroke="#921552" stroke-width="2.0"><circle cx="1647.8" cy="1252.9" r="4.3"/><path d="M1647.8 1257.2 V1265.2 M1643.5 1260.3 H1652.1"/></g>
<g fill="none" stroke="#921552" stroke-width="2.0"><circle cx="1642.8" cy="1272.5" r="4.3"/><path d="M1642.8 1276.8 V1284.8 M1638.5 1279.9 H1647.1"/></g>
<g fill="none" stroke="#921552" stroke-width="2.0"><circle cx="1642.8" cy="1310" r="4.3"/><path d="M1642.8 1314.3 V1322.3 M1638.5 1317.4 H1647.1"/></g>
<path d="M1505.3 1266 V1291.5 M1492.8 1266 H1517.8 M1492.8 1291.5 H1517.8" fill="none" stroke="#000000" stroke-width="2" stroke-linecap="butt"/>
<path d="M1573.9 1179.5 V1234.6 M1561.4 1179.5 H1586.4 M1561.4 1234.6 H1586.4" fill="none" stroke="#921552" stroke-width="2" stroke-linecap="butt"/>
<path d="M1642.9 1196.4 V1226 M1630.4 1196.4 H1655.4 M1630.4 1226 H1655.4" fill="none" stroke="#921552" stroke-width="2" stroke-linecap="butt"/>
<path d="M1505 964.2 V938.5 H1642.7 V1078.5" fill="none" stroke="#000000" stroke-width="2.2"/>
<text transform="translate(1574.3 933.2) scale(1 1.06)" font-family="'DejaVu Sans', sans-serif" font-weight="700" font-size="47" text-anchor="middle" letter-spacing="1" stroke="#000" stroke-width="1.7" stroke-linejoin="miter">**</text>
<path d="M1505 1146.3 V1021.9 H1574.4 V1048.5" fill="none" stroke="#000000" stroke-width="2.2"/>
<text transform="translate(1540.4 1017.7) scale(1 1.06)" font-family="'DejaVu Sans', sans-serif" font-weight="700" font-size="47" text-anchor="middle" letter-spacing="1" stroke="#000" stroke-width="1.7" stroke-linejoin="miter">*</text>
<text transform="translate(1514.2 1576.45) rotate(-45)" font-size="38" text-anchor="end" font-weight="normal" class="xl">Veh</text>
<text transform="translate(1576.1 1582.9) rotate(-45)" font-size="38" text-anchor="end" font-weight="normal" class="xl">(5) Tri 187</text>
<text transform="translate(1652.65 1575.4) rotate(-45)" font-size="38" text-anchor="end" font-weight="normal" class="xl">(10) Tri 187</text>
</g>
</svg></body></html>
